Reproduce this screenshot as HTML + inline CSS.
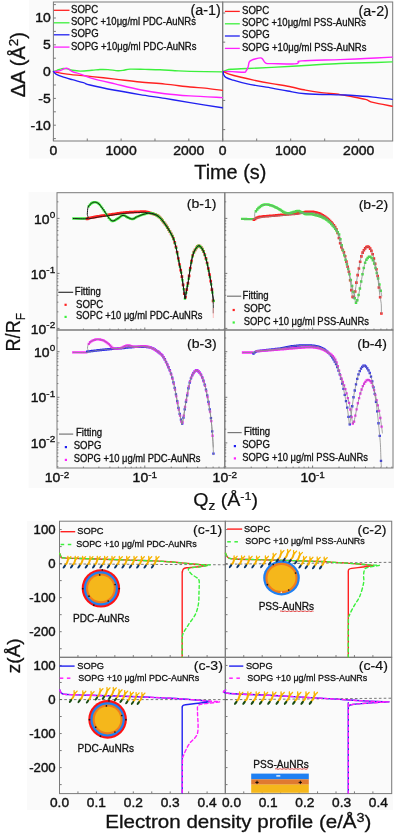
<!DOCTYPE html>
<html><head><meta charset="utf-8"><title>figure</title>
<style>html,body{margin:0;padding:0;background:#fff;width:395px;height:833px;overflow:hidden;font-family:"Liberation Sans", sans-serif}svg{display:block;will-change:transform}</style>
</head><body>
<svg width="395" height="833" viewBox="0 0 395 833" font-family='"Liberation Sans", sans-serif'><rect width="395" height="833" fill="#fff"/>
<rect x="29" y="0" width="364" height="158.6" fill="#fafafa" />
<rect x="28.6" y="192" width="365.4" height="296" fill="#fafafa" />
<rect x="27" y="521" width="366" height="289" fill="#fafafa" />
<rect x="53.4" y="2" width="169.3" height="139" fill="none" stroke="#7a7a7a" stroke-width="1"/>
<line x1="53.4" y1="138.6" x2="55.9" y2="138.6" stroke="#7a7a7a" stroke-width="1" />
<line x1="53.4" y1="125.2" x2="55.9" y2="125.2" stroke="#7a7a7a" stroke-width="1" />
<line x1="53.4" y1="111.8" x2="55.9" y2="111.8" stroke="#7a7a7a" stroke-width="1" />
<line x1="53.4" y1="98.4" x2="55.9" y2="98.4" stroke="#7a7a7a" stroke-width="1" />
<line x1="53.4" y1="85" x2="55.9" y2="85" stroke="#7a7a7a" stroke-width="1" />
<line x1="53.4" y1="71.6" x2="55.9" y2="71.6" stroke="#7a7a7a" stroke-width="1" />
<line x1="53.4" y1="58.2" x2="55.9" y2="58.2" stroke="#7a7a7a" stroke-width="1" />
<line x1="53.4" y1="44.8" x2="55.9" y2="44.8" stroke="#7a7a7a" stroke-width="1" />
<line x1="53.4" y1="31.4" x2="55.9" y2="31.4" stroke="#7a7a7a" stroke-width="1" />
<line x1="53.4" y1="18" x2="55.9" y2="18" stroke="#7a7a7a" stroke-width="1" />
<line x1="53.4" y1="4.6" x2="55.9" y2="4.6" stroke="#7a7a7a" stroke-width="1" />
<line x1="53.4" y1="141" x2="53.4" y2="138.5" stroke="#7a7a7a" stroke-width="1" />
<line x1="87.26" y1="141" x2="87.26" y2="138.5" stroke="#7a7a7a" stroke-width="1" />
<line x1="121.12" y1="141" x2="121.12" y2="138.5" stroke="#7a7a7a" stroke-width="1" />
<line x1="154.98" y1="141" x2="154.98" y2="138.5" stroke="#7a7a7a" stroke-width="1" />
<line x1="188.84" y1="141" x2="188.84" y2="138.5" stroke="#7a7a7a" stroke-width="1" />
<text x="53.4" y="154.6" font-size="13.2" text-anchor="middle" fill="#111"  textLength="7.78" lengthAdjust="spacingAndGlyphs" stroke="#111" stroke-width="0.4">0</text>
<text x="121.12" y="154.6" font-size="13.2" text-anchor="middle" fill="#111"  textLength="31.13" lengthAdjust="spacingAndGlyphs" stroke="#111" stroke-width="0.4">1000</text>
<text x="188.84" y="154.6" font-size="13.2" text-anchor="middle" fill="#111"  textLength="31.13" lengthAdjust="spacingAndGlyphs" stroke="#111" stroke-width="0.4">2000</text>
<rect x="222.7" y="2" width="170" height="139" fill="none" stroke="#7a7a7a" stroke-width="1"/>
<line x1="222.7" y1="13" x2="225.2" y2="13" stroke="#7a7a7a" stroke-width="1" />
<line x1="222.7" y1="42.15" x2="225.2" y2="42.15" stroke="#7a7a7a" stroke-width="1" />
<line x1="222.7" y1="71.3" x2="225.2" y2="71.3" stroke="#7a7a7a" stroke-width="1" />
<line x1="222.7" y1="100.45" x2="225.2" y2="100.45" stroke="#7a7a7a" stroke-width="1" />
<line x1="222.7" y1="129.6" x2="225.2" y2="129.6" stroke="#7a7a7a" stroke-width="1" />
<line x1="222.7" y1="141" x2="222.7" y2="138.5" stroke="#7a7a7a" stroke-width="1" />
<line x1="256.7" y1="141" x2="256.7" y2="138.5" stroke="#7a7a7a" stroke-width="1" />
<line x1="290.7" y1="141" x2="290.7" y2="138.5" stroke="#7a7a7a" stroke-width="1" />
<line x1="324.7" y1="141" x2="324.7" y2="138.5" stroke="#7a7a7a" stroke-width="1" />
<line x1="358.7" y1="141" x2="358.7" y2="138.5" stroke="#7a7a7a" stroke-width="1" />
<text x="222.7" y="154.6" font-size="13.2" text-anchor="middle" fill="#111"  textLength="7.78" lengthAdjust="spacingAndGlyphs" stroke="#111" stroke-width="0.4">0</text>
<text x="290.7" y="154.6" font-size="13.2" text-anchor="middle" fill="#111"  textLength="31.13" lengthAdjust="spacingAndGlyphs" stroke="#111" stroke-width="0.4">1000</text>
<text x="358.7" y="154.6" font-size="13.2" text-anchor="middle" fill="#111"  textLength="31.13" lengthAdjust="spacingAndGlyphs" stroke="#111" stroke-width="0.4">2000</text>
<text x="50.8" y="22.4" font-size="13.2" text-anchor="end" fill="#111"  textLength="15.56" lengthAdjust="spacingAndGlyphs" stroke="#111" stroke-width="0.4">10</text>
<text x="50.8" y="49.2" font-size="13.2" text-anchor="end" fill="#111"  textLength="7.78" lengthAdjust="spacingAndGlyphs" stroke="#111" stroke-width="0.4">5</text>
<text x="50.8" y="76" font-size="13.2" text-anchor="end" fill="#111"  textLength="7.78" lengthAdjust="spacingAndGlyphs" stroke="#111" stroke-width="0.4">0</text>
<text x="50.8" y="102.8" font-size="13.2" text-anchor="end" fill="#111"  textLength="12.44" lengthAdjust="spacingAndGlyphs" stroke="#111" stroke-width="0.4">-5</text>
<text x="50.8" y="129.6" font-size="13.2" text-anchor="end" fill="#111"  textLength="20.22" lengthAdjust="spacingAndGlyphs" stroke="#111" stroke-width="0.4">-10</text>
<text transform="translate(25.2,97.3) rotate(-90)" font-size="20" fill="#111" stroke="#111" stroke-width="0.3">&#916;A (&#197;<tspan font-size="13.5" dy="-7.5">2</tspan><tspan dy="7.5">)</tspan></text>
<text x="230.3" y="179" font-size="20" text-anchor="middle" fill="#111" textLength="72" lengthAdjust="spacingAndGlyphs" stroke="#111" stroke-width="0.3">Time (s)</text>
<text x="220.7" y="15.2" font-size="13.8" text-anchor="end" fill="#111"  textLength="30.3" lengthAdjust="spacingAndGlyphs" stroke="#111" stroke-width="0.2">(a-1)</text>
<text x="388.9" y="15.6" font-size="13.8" text-anchor="end" fill="#111"  textLength="30.3" lengthAdjust="spacingAndGlyphs" stroke="#111" stroke-width="0.2">(a-2)</text>
<line x1="53.9" y1="10.3" x2="69.5" y2="10.3" stroke="#ff2020" stroke-width="1.3" />
<text x="71" y="12.7" font-size="10.2" text-anchor="start" fill="#111"  textLength="27.17" lengthAdjust="spacingAndGlyphs" stroke="#111" stroke-width="0.3">SOPC</text>
<line x1="53.9" y1="22.8" x2="69.5" y2="22.8" stroke="#3cf03c" stroke-width="1.3" />
<text x="71" y="25.2" font-size="10.2" text-anchor="start" fill="#111"  textLength="124.95" lengthAdjust="spacingAndGlyphs" stroke="#111" stroke-width="0.3">SOPC +10&#956;g/ml PDC-AuNRs</text>
<line x1="53.9" y1="34.8" x2="69.5" y2="34.8" stroke="#2020f0" stroke-width="1.3" />
<text x="71" y="37.2" font-size="10.2" text-anchor="start" fill="#111"  textLength="27.71" lengthAdjust="spacingAndGlyphs" stroke="#111" stroke-width="0.3">SOPG</text>
<line x1="53.9" y1="47.1" x2="69.5" y2="47.1" stroke="#ff20ff" stroke-width="1.3" />
<text x="71" y="49.5" font-size="10.2" text-anchor="start" fill="#111"  textLength="125.47" lengthAdjust="spacingAndGlyphs" stroke="#111" stroke-width="0.3">SOPG +10&#956;g/ml PDC-AuNRs</text>
<line x1="224.9" y1="11.4" x2="239.8" y2="11.4" stroke="#ff2020" stroke-width="1.3" />
<text x="242" y="13.8" font-size="10.2" text-anchor="start" fill="#111"  textLength="27.17" lengthAdjust="spacingAndGlyphs" stroke="#111" stroke-width="0.3">SOPC</text>
<line x1="224.9" y1="23.8" x2="239.8" y2="23.8" stroke="#3cf03c" stroke-width="1.3" />
<text x="242" y="26.2" font-size="10.2" text-anchor="start" fill="#111"  textLength="123.9" lengthAdjust="spacingAndGlyphs" stroke="#111" stroke-width="0.3">SOPC +10&#956;g/ml PSS-AuNRs</text>
<line x1="224.9" y1="36" x2="239.8" y2="36" stroke="#2020f0" stroke-width="1.3" />
<text x="242" y="38.4" font-size="10.2" text-anchor="start" fill="#111"  textLength="27.71" lengthAdjust="spacingAndGlyphs" stroke="#111" stroke-width="0.3">SOPG</text>
<line x1="224.9" y1="48.4" x2="239.8" y2="48.4" stroke="#ff20ff" stroke-width="1.3" />
<text x="242" y="50.8" font-size="10.2" text-anchor="start" fill="#111"  textLength="124.43" lengthAdjust="spacingAndGlyphs" stroke="#111" stroke-width="0.3">SOPG +10&#956;g/ml PSS-AuNRs</text>
<path d="M53.5 71.6 C54.1 71.38 55.67 70.8 57.1 70.3 C58.53 69.8 60.42 68.83 62.1 68.6 C63.78 68.37 65.5 68.62 67.2 68.9 C68.9 69.18 70.1 69.93 72.3 70.3 C74.5 70.67 77.12 71.1 80.4 71.1 C83.68 71.1 88.73 70.57 92 70.3 C95.27 70.03 97.33 69.62 100 69.5 C102.67 69.38 105 69.4 108 69.6 C111 69.8 115.33 70.6 118 70.7 C120.67 70.8 122 70.47 124 70.2 C126 69.93 126.5 69.23 130 69.1 C133.5 68.97 140 69.28 145 69.4 C150 69.52 155 69.58 160 69.8 C165 70.02 170 70.43 175 70.7 C180 70.97 182.12 71.2 190 71.4 C197.88 71.6 216.92 71.82 222.3 71.9" fill="none" stroke="#3cf03c" stroke-width="1.4" stroke-linejoin="round" stroke-linecap="round" />
<path d="M53.5 71.6 C55.78 72.02 60.78 73.27 67.2 74.1 C73.62 74.93 84.03 75.77 92 76.6 C99.97 77.43 107 78.2 115 79.1 C123 80 131.67 81.17 140 82 C148.33 82.83 156.67 83.27 165 84.1 C173.33 84.93 183.33 86.33 190 87 C196.67 87.67 199.62 87.53 205 88.1 C210.38 88.67 219.42 90.02 222.3 90.4" fill="none" stroke="#ff2020" stroke-width="1.4" stroke-linejoin="round" stroke-linecap="round" />
<path d="M53.5 71.6 C54.6 71.43 57.9 71.18 60.1 70.6 C62.3 70.02 64.67 67.93 66.7 68.1 C68.73 68.27 70.02 70.6 72.3 71.6 C74.58 72.6 77.12 72.98 80.4 74.1 C83.68 75.22 86.23 76.67 92 78.3 C97.77 79.93 107 82 115 83.9 C123 85.8 131.67 88.07 140 89.7 C148.33 91.33 156.67 92.67 165 93.7 C173.33 94.73 180.45 95.25 190 95.9 C199.55 96.55 216.92 97.32 222.3 97.6" fill="none" stroke="#ff20ff" stroke-width="1.4" stroke-linejoin="round" stroke-linecap="round" />
<path d="M53.5 71.6 C53.92 72.02 54.57 73.25 56 74.1 C57.43 74.95 59.38 75.77 62.1 76.7 C64.82 77.63 68.75 78.7 72.3 79.7 C75.85 80.7 80.45 81.82 83.4 82.7 C86.35 83.58 84.73 83.73 90 85 C95.27 86.27 106.67 88.7 115 90.3 C123.33 91.9 131.67 93.25 140 94.6 C148.33 95.95 156.67 97.07 165 98.4 C173.33 99.73 180.45 101.03 190 102.6 C199.55 104.17 216.92 106.93 222.3 107.8" fill="none" stroke="#2020f0" stroke-width="1.4" stroke-linejoin="round" stroke-linecap="round" />
<path d="M223.3 71.6 C223.72 71.4 224.53 70.78 225.8 70.4 C227.07 70.02 227.32 69.62 230.9 69.3 C234.48 68.98 240.45 68.82 247.3 68.5 C254.15 68.18 262.38 67.9 272 67.4 C281.62 66.9 293.67 66.15 305 65.5 C316.33 64.85 330 63.95 340 63.5 C350 63.05 356.3 63.07 365 62.8 C373.7 62.53 387.67 62.05 392.2 61.9" fill="none" stroke="#3cf03c" stroke-width="1.4" stroke-linejoin="round" stroke-linecap="round" />
<path d="M223.3 71.6 C224.77 71.6 228.62 71.48 232.1 71.6 C235.58 71.72 241.88 72.4 244.2 72.3 C246.52 72.2 245.37 71.85 246 71 C246.63 70.15 247.47 68.68 248 67.2 C248.53 65.72 248.58 63.27 249.2 62.1 C249.82 60.93 250.75 60.72 251.7 60.2 C252.65 59.68 253.42 59.38 254.9 59 C256.38 58.62 259.33 57.9 260.6 57.9 C261.87 57.9 261.77 58.25 262.5 59 C263.23 59.75 264.15 61.63 265 62.4 C265.85 63.17 266.43 63.4 267.6 63.6 C268.77 63.8 267.47 63.55 272 63.6 C276.53 63.65 290.38 64.08 294.8 63.9 C299.22 63.72 297.32 63 298.5 62.5 C299.68 62 294.98 61.38 301.9 60.9 C308.82 60.42 329.48 60 340 59.6 C350.52 59.2 356.3 58.92 365 58.5 C373.7 58.08 387.67 57.33 392.2 57.1" fill="none" stroke="#ff20ff" stroke-width="1.4" stroke-linejoin="round" stroke-linecap="round" />
<path d="M223.3 71.6 C224.13 71.97 225.35 72.85 228.3 73.8 C231.25 74.75 236.78 76.25 241 77.3 C245.22 78.35 248.43 79.05 253.6 80.1 C258.77 81.15 266.32 82.58 272 83.6 C277.68 84.62 282.12 85.12 287.7 86.2 C293.28 87.28 300.18 89.07 305.5 90.1 C310.82 91.13 313.85 91.65 319.6 92.4 C325.35 93.15 334.9 93.93 340 94.6 C345.1 95.27 345.97 95.6 350.2 96.4 C354.43 97.2 361.6 98.4 365.4 99.4 C369.2 100.4 368.53 101.27 373 102.4 C377.47 103.53 389 105.57 392.2 106.2" fill="none" stroke="#ff2020" stroke-width="1.4" stroke-linejoin="round" stroke-linecap="round" />
<path d="M223.3 71.6 C223.33 72.03 223.08 73.25 223.5 74.2 C223.92 75.15 224.37 76.37 225.8 77.3 C227.23 78.23 228.52 78.7 232.1 79.8 C235.68 80.9 240.65 82.52 247.3 83.9 C253.95 85.28 265.27 86.92 272 88.1 C278.73 89.28 282.12 90.07 287.7 91 C293.28 91.93 296.78 93.05 305.5 93.7 C314.22 94.35 332.55 94.63 340 94.9 C347.45 95.17 344.7 94.93 350.2 95.3 C355.7 95.67 366 96.42 373 97.1 C380 97.78 389 99.02 392.2 99.4" fill="none" stroke="#2020f0" stroke-width="1.4" stroke-linejoin="round" stroke-linecap="round" />
<rect x="57" y="192.7" width="167.8" height="137.3" fill="none" stroke="#7a7a7a" stroke-width="1"/>
<line x1="57" y1="328.4" x2="59.5" y2="328.4" stroke="#7a7a7a" stroke-width="1" />
<line x1="57" y1="311.84" x2="58.4" y2="311.84" stroke="#7a7a7a" stroke-width="1" />
<line x1="57" y1="302.16" x2="58.4" y2="302.16" stroke="#7a7a7a" stroke-width="1" />
<line x1="57" y1="295.29" x2="58.4" y2="295.29" stroke="#7a7a7a" stroke-width="1" />
<line x1="57" y1="289.96" x2="58.4" y2="289.96" stroke="#7a7a7a" stroke-width="1" />
<line x1="57" y1="285.6" x2="58.4" y2="285.6" stroke="#7a7a7a" stroke-width="1" />
<line x1="57" y1="281.92" x2="58.4" y2="281.92" stroke="#7a7a7a" stroke-width="1" />
<line x1="57" y1="278.73" x2="58.4" y2="278.73" stroke="#7a7a7a" stroke-width="1" />
<line x1="57" y1="275.92" x2="58.4" y2="275.92" stroke="#7a7a7a" stroke-width="1" />
<line x1="57" y1="273.4" x2="59.5" y2="273.4" stroke="#7a7a7a" stroke-width="1" />
<line x1="57" y1="256.84" x2="58.4" y2="256.84" stroke="#7a7a7a" stroke-width="1" />
<line x1="57" y1="247.16" x2="58.4" y2="247.16" stroke="#7a7a7a" stroke-width="1" />
<line x1="57" y1="240.29" x2="58.4" y2="240.29" stroke="#7a7a7a" stroke-width="1" />
<line x1="57" y1="234.96" x2="58.4" y2="234.96" stroke="#7a7a7a" stroke-width="1" />
<line x1="57" y1="230.6" x2="58.4" y2="230.6" stroke="#7a7a7a" stroke-width="1" />
<line x1="57" y1="226.92" x2="58.4" y2="226.92" stroke="#7a7a7a" stroke-width="1" />
<line x1="57" y1="223.73" x2="58.4" y2="223.73" stroke="#7a7a7a" stroke-width="1" />
<line x1="57" y1="220.92" x2="58.4" y2="220.92" stroke="#7a7a7a" stroke-width="1" />
<line x1="57" y1="218.4" x2="59.5" y2="218.4" stroke="#7a7a7a" stroke-width="1" />
<line x1="57" y1="201.84" x2="58.4" y2="201.84" stroke="#7a7a7a" stroke-width="1" />
<line x1="83.43" y1="330" x2="83.43" y2="328.6" stroke="#7a7a7a" stroke-width="1" />
<line x1="98.89" y1="330" x2="98.89" y2="328.6" stroke="#7a7a7a" stroke-width="1" />
<line x1="109.86" y1="330" x2="109.86" y2="328.6" stroke="#7a7a7a" stroke-width="1" />
<line x1="118.37" y1="330" x2="118.37" y2="328.6" stroke="#7a7a7a" stroke-width="1" />
<line x1="125.32" y1="330" x2="125.32" y2="328.6" stroke="#7a7a7a" stroke-width="1" />
<line x1="131.2" y1="330" x2="131.2" y2="328.6" stroke="#7a7a7a" stroke-width="1" />
<line x1="136.29" y1="330" x2="136.29" y2="328.6" stroke="#7a7a7a" stroke-width="1" />
<line x1="140.78" y1="330" x2="140.78" y2="328.6" stroke="#7a7a7a" stroke-width="1" />
<line x1="144.8" y1="330" x2="144.8" y2="327.5" stroke="#7a7a7a" stroke-width="1" />
<line x1="171.23" y1="330" x2="171.23" y2="328.6" stroke="#7a7a7a" stroke-width="1" />
<line x1="186.69" y1="330" x2="186.69" y2="328.6" stroke="#7a7a7a" stroke-width="1" />
<line x1="197.66" y1="330" x2="197.66" y2="328.6" stroke="#7a7a7a" stroke-width="1" />
<line x1="206.17" y1="330" x2="206.17" y2="328.6" stroke="#7a7a7a" stroke-width="1" />
<line x1="213.12" y1="330" x2="213.12" y2="328.6" stroke="#7a7a7a" stroke-width="1" />
<line x1="219" y1="330" x2="219" y2="328.6" stroke="#7a7a7a" stroke-width="1" />
<line x1="224.09" y1="330" x2="224.09" y2="328.6" stroke="#7a7a7a" stroke-width="1" />
<rect x="224.8" y="192.7" width="168.2" height="137.3" fill="none" stroke="#7a7a7a" stroke-width="1"/>
<line x1="224.8" y1="328.4" x2="227.3" y2="328.4" stroke="#7a7a7a" stroke-width="1" />
<line x1="224.8" y1="311.84" x2="226.2" y2="311.84" stroke="#7a7a7a" stroke-width="1" />
<line x1="224.8" y1="302.16" x2="226.2" y2="302.16" stroke="#7a7a7a" stroke-width="1" />
<line x1="224.8" y1="295.29" x2="226.2" y2="295.29" stroke="#7a7a7a" stroke-width="1" />
<line x1="224.8" y1="289.96" x2="226.2" y2="289.96" stroke="#7a7a7a" stroke-width="1" />
<line x1="224.8" y1="285.6" x2="226.2" y2="285.6" stroke="#7a7a7a" stroke-width="1" />
<line x1="224.8" y1="281.92" x2="226.2" y2="281.92" stroke="#7a7a7a" stroke-width="1" />
<line x1="224.8" y1="278.73" x2="226.2" y2="278.73" stroke="#7a7a7a" stroke-width="1" />
<line x1="224.8" y1="275.92" x2="226.2" y2="275.92" stroke="#7a7a7a" stroke-width="1" />
<line x1="224.8" y1="273.4" x2="227.3" y2="273.4" stroke="#7a7a7a" stroke-width="1" />
<line x1="224.8" y1="256.84" x2="226.2" y2="256.84" stroke="#7a7a7a" stroke-width="1" />
<line x1="224.8" y1="247.16" x2="226.2" y2="247.16" stroke="#7a7a7a" stroke-width="1" />
<line x1="224.8" y1="240.29" x2="226.2" y2="240.29" stroke="#7a7a7a" stroke-width="1" />
<line x1="224.8" y1="234.96" x2="226.2" y2="234.96" stroke="#7a7a7a" stroke-width="1" />
<line x1="224.8" y1="230.6" x2="226.2" y2="230.6" stroke="#7a7a7a" stroke-width="1" />
<line x1="224.8" y1="226.92" x2="226.2" y2="226.92" stroke="#7a7a7a" stroke-width="1" />
<line x1="224.8" y1="223.73" x2="226.2" y2="223.73" stroke="#7a7a7a" stroke-width="1" />
<line x1="224.8" y1="220.92" x2="226.2" y2="220.92" stroke="#7a7a7a" stroke-width="1" />
<line x1="224.8" y1="218.4" x2="227.3" y2="218.4" stroke="#7a7a7a" stroke-width="1" />
<line x1="224.8" y1="201.84" x2="226.2" y2="201.84" stroke="#7a7a7a" stroke-width="1" />
<line x1="251.23" y1="330" x2="251.23" y2="328.6" stroke="#7a7a7a" stroke-width="1" />
<line x1="266.69" y1="330" x2="266.69" y2="328.6" stroke="#7a7a7a" stroke-width="1" />
<line x1="277.66" y1="330" x2="277.66" y2="328.6" stroke="#7a7a7a" stroke-width="1" />
<line x1="286.17" y1="330" x2="286.17" y2="328.6" stroke="#7a7a7a" stroke-width="1" />
<line x1="293.12" y1="330" x2="293.12" y2="328.6" stroke="#7a7a7a" stroke-width="1" />
<line x1="299" y1="330" x2="299" y2="328.6" stroke="#7a7a7a" stroke-width="1" />
<line x1="304.09" y1="330" x2="304.09" y2="328.6" stroke="#7a7a7a" stroke-width="1" />
<line x1="308.58" y1="330" x2="308.58" y2="328.6" stroke="#7a7a7a" stroke-width="1" />
<line x1="312.6" y1="330" x2="312.6" y2="327.5" stroke="#7a7a7a" stroke-width="1" />
<line x1="339.03" y1="330" x2="339.03" y2="328.6" stroke="#7a7a7a" stroke-width="1" />
<line x1="354.49" y1="330" x2="354.49" y2="328.6" stroke="#7a7a7a" stroke-width="1" />
<line x1="365.46" y1="330" x2="365.46" y2="328.6" stroke="#7a7a7a" stroke-width="1" />
<line x1="373.97" y1="330" x2="373.97" y2="328.6" stroke="#7a7a7a" stroke-width="1" />
<line x1="380.92" y1="330" x2="380.92" y2="328.6" stroke="#7a7a7a" stroke-width="1" />
<line x1="386.8" y1="330" x2="386.8" y2="328.6" stroke="#7a7a7a" stroke-width="1" />
<line x1="391.89" y1="330" x2="391.89" y2="328.6" stroke="#7a7a7a" stroke-width="1" />
<text transform="translate(55.2,223.5) scale(1.06,1)" text-anchor="end" font-size="13.2" fill="#111" stroke="#111" stroke-width="0.4">10<tspan font-size="9.4" stroke-width="0.3" dy="-5.9">0</tspan></text>
<text transform="translate(55.2,278.5) scale(1.06,1)" text-anchor="end" font-size="13.2" fill="#111" stroke="#111" stroke-width="0.4">10<tspan font-size="9.4" stroke-width="0.3" dy="-5.9">-1</tspan></text>
<text transform="translate(55.2,333.5) scale(1.06,1)" text-anchor="end" font-size="13.2" fill="#111" stroke="#111" stroke-width="0.4">10<tspan font-size="9.4" stroke-width="0.3" dy="-5.9">-2</tspan></text>
<rect x="57" y="330" width="167.8" height="138" fill="none" stroke="#7a7a7a" stroke-width="1"/>
<line x1="57" y1="466.74" x2="58.4" y2="466.74" stroke="#7a7a7a" stroke-width="1" />
<line x1="57" y1="461.05" x2="58.4" y2="461.05" stroke="#7a7a7a" stroke-width="1" />
<line x1="57" y1="456.63" x2="58.4" y2="456.63" stroke="#7a7a7a" stroke-width="1" />
<line x1="57" y1="453.02" x2="58.4" y2="453.02" stroke="#7a7a7a" stroke-width="1" />
<line x1="57" y1="449.96" x2="58.4" y2="449.96" stroke="#7a7a7a" stroke-width="1" />
<line x1="57" y1="447.32" x2="58.4" y2="447.32" stroke="#7a7a7a" stroke-width="1" />
<line x1="57" y1="444.99" x2="58.4" y2="444.99" stroke="#7a7a7a" stroke-width="1" />
<line x1="57" y1="442.9" x2="59.5" y2="442.9" stroke="#7a7a7a" stroke-width="1" />
<line x1="57" y1="429.17" x2="58.4" y2="429.17" stroke="#7a7a7a" stroke-width="1" />
<line x1="57" y1="421.14" x2="58.4" y2="421.14" stroke="#7a7a7a" stroke-width="1" />
<line x1="57" y1="415.45" x2="58.4" y2="415.45" stroke="#7a7a7a" stroke-width="1" />
<line x1="57" y1="411.03" x2="58.4" y2="411.03" stroke="#7a7a7a" stroke-width="1" />
<line x1="57" y1="407.42" x2="58.4" y2="407.42" stroke="#7a7a7a" stroke-width="1" />
<line x1="57" y1="404.36" x2="58.4" y2="404.36" stroke="#7a7a7a" stroke-width="1" />
<line x1="57" y1="401.72" x2="58.4" y2="401.72" stroke="#7a7a7a" stroke-width="1" />
<line x1="57" y1="399.39" x2="58.4" y2="399.39" stroke="#7a7a7a" stroke-width="1" />
<line x1="57" y1="397.3" x2="59.5" y2="397.3" stroke="#7a7a7a" stroke-width="1" />
<line x1="57" y1="383.57" x2="58.4" y2="383.57" stroke="#7a7a7a" stroke-width="1" />
<line x1="57" y1="375.54" x2="58.4" y2="375.54" stroke="#7a7a7a" stroke-width="1" />
<line x1="57" y1="369.85" x2="58.4" y2="369.85" stroke="#7a7a7a" stroke-width="1" />
<line x1="57" y1="365.43" x2="58.4" y2="365.43" stroke="#7a7a7a" stroke-width="1" />
<line x1="57" y1="361.82" x2="58.4" y2="361.82" stroke="#7a7a7a" stroke-width="1" />
<line x1="57" y1="358.76" x2="58.4" y2="358.76" stroke="#7a7a7a" stroke-width="1" />
<line x1="57" y1="356.12" x2="58.4" y2="356.12" stroke="#7a7a7a" stroke-width="1" />
<line x1="57" y1="353.79" x2="58.4" y2="353.79" stroke="#7a7a7a" stroke-width="1" />
<line x1="57" y1="351.7" x2="59.5" y2="351.7" stroke="#7a7a7a" stroke-width="1" />
<line x1="57" y1="337.97" x2="58.4" y2="337.97" stroke="#7a7a7a" stroke-width="1" />
<line x1="83.43" y1="468" x2="83.43" y2="466.6" stroke="#7a7a7a" stroke-width="1" />
<line x1="98.89" y1="468" x2="98.89" y2="466.6" stroke="#7a7a7a" stroke-width="1" />
<line x1="109.86" y1="468" x2="109.86" y2="466.6" stroke="#7a7a7a" stroke-width="1" />
<line x1="118.37" y1="468" x2="118.37" y2="466.6" stroke="#7a7a7a" stroke-width="1" />
<line x1="125.32" y1="468" x2="125.32" y2="466.6" stroke="#7a7a7a" stroke-width="1" />
<line x1="131.2" y1="468" x2="131.2" y2="466.6" stroke="#7a7a7a" stroke-width="1" />
<line x1="136.29" y1="468" x2="136.29" y2="466.6" stroke="#7a7a7a" stroke-width="1" />
<line x1="140.78" y1="468" x2="140.78" y2="466.6" stroke="#7a7a7a" stroke-width="1" />
<line x1="144.8" y1="468" x2="144.8" y2="465.5" stroke="#7a7a7a" stroke-width="1" />
<line x1="171.23" y1="468" x2="171.23" y2="466.6" stroke="#7a7a7a" stroke-width="1" />
<line x1="186.69" y1="468" x2="186.69" y2="466.6" stroke="#7a7a7a" stroke-width="1" />
<line x1="197.66" y1="468" x2="197.66" y2="466.6" stroke="#7a7a7a" stroke-width="1" />
<line x1="206.17" y1="468" x2="206.17" y2="466.6" stroke="#7a7a7a" stroke-width="1" />
<line x1="213.12" y1="468" x2="213.12" y2="466.6" stroke="#7a7a7a" stroke-width="1" />
<line x1="219" y1="468" x2="219" y2="466.6" stroke="#7a7a7a" stroke-width="1" />
<line x1="224.09" y1="468" x2="224.09" y2="466.6" stroke="#7a7a7a" stroke-width="1" />
<rect x="224.8" y="330" width="168.2" height="138" fill="none" stroke="#7a7a7a" stroke-width="1"/>
<line x1="224.8" y1="466.74" x2="226.2" y2="466.74" stroke="#7a7a7a" stroke-width="1" />
<line x1="224.8" y1="461.05" x2="226.2" y2="461.05" stroke="#7a7a7a" stroke-width="1" />
<line x1="224.8" y1="456.63" x2="226.2" y2="456.63" stroke="#7a7a7a" stroke-width="1" />
<line x1="224.8" y1="453.02" x2="226.2" y2="453.02" stroke="#7a7a7a" stroke-width="1" />
<line x1="224.8" y1="449.96" x2="226.2" y2="449.96" stroke="#7a7a7a" stroke-width="1" />
<line x1="224.8" y1="447.32" x2="226.2" y2="447.32" stroke="#7a7a7a" stroke-width="1" />
<line x1="224.8" y1="444.99" x2="226.2" y2="444.99" stroke="#7a7a7a" stroke-width="1" />
<line x1="224.8" y1="442.9" x2="227.3" y2="442.9" stroke="#7a7a7a" stroke-width="1" />
<line x1="224.8" y1="429.17" x2="226.2" y2="429.17" stroke="#7a7a7a" stroke-width="1" />
<line x1="224.8" y1="421.14" x2="226.2" y2="421.14" stroke="#7a7a7a" stroke-width="1" />
<line x1="224.8" y1="415.45" x2="226.2" y2="415.45" stroke="#7a7a7a" stroke-width="1" />
<line x1="224.8" y1="411.03" x2="226.2" y2="411.03" stroke="#7a7a7a" stroke-width="1" />
<line x1="224.8" y1="407.42" x2="226.2" y2="407.42" stroke="#7a7a7a" stroke-width="1" />
<line x1="224.8" y1="404.36" x2="226.2" y2="404.36" stroke="#7a7a7a" stroke-width="1" />
<line x1="224.8" y1="401.72" x2="226.2" y2="401.72" stroke="#7a7a7a" stroke-width="1" />
<line x1="224.8" y1="399.39" x2="226.2" y2="399.39" stroke="#7a7a7a" stroke-width="1" />
<line x1="224.8" y1="397.3" x2="227.3" y2="397.3" stroke="#7a7a7a" stroke-width="1" />
<line x1="224.8" y1="383.57" x2="226.2" y2="383.57" stroke="#7a7a7a" stroke-width="1" />
<line x1="224.8" y1="375.54" x2="226.2" y2="375.54" stroke="#7a7a7a" stroke-width="1" />
<line x1="224.8" y1="369.85" x2="226.2" y2="369.85" stroke="#7a7a7a" stroke-width="1" />
<line x1="224.8" y1="365.43" x2="226.2" y2="365.43" stroke="#7a7a7a" stroke-width="1" />
<line x1="224.8" y1="361.82" x2="226.2" y2="361.82" stroke="#7a7a7a" stroke-width="1" />
<line x1="224.8" y1="358.76" x2="226.2" y2="358.76" stroke="#7a7a7a" stroke-width="1" />
<line x1="224.8" y1="356.12" x2="226.2" y2="356.12" stroke="#7a7a7a" stroke-width="1" />
<line x1="224.8" y1="353.79" x2="226.2" y2="353.79" stroke="#7a7a7a" stroke-width="1" />
<line x1="224.8" y1="351.7" x2="227.3" y2="351.7" stroke="#7a7a7a" stroke-width="1" />
<line x1="224.8" y1="337.97" x2="226.2" y2="337.97" stroke="#7a7a7a" stroke-width="1" />
<line x1="251.23" y1="468" x2="251.23" y2="466.6" stroke="#7a7a7a" stroke-width="1" />
<line x1="266.69" y1="468" x2="266.69" y2="466.6" stroke="#7a7a7a" stroke-width="1" />
<line x1="277.66" y1="468" x2="277.66" y2="466.6" stroke="#7a7a7a" stroke-width="1" />
<line x1="286.17" y1="468" x2="286.17" y2="466.6" stroke="#7a7a7a" stroke-width="1" />
<line x1="293.12" y1="468" x2="293.12" y2="466.6" stroke="#7a7a7a" stroke-width="1" />
<line x1="299" y1="468" x2="299" y2="466.6" stroke="#7a7a7a" stroke-width="1" />
<line x1="304.09" y1="468" x2="304.09" y2="466.6" stroke="#7a7a7a" stroke-width="1" />
<line x1="308.58" y1="468" x2="308.58" y2="466.6" stroke="#7a7a7a" stroke-width="1" />
<line x1="312.6" y1="468" x2="312.6" y2="465.5" stroke="#7a7a7a" stroke-width="1" />
<line x1="339.03" y1="468" x2="339.03" y2="466.6" stroke="#7a7a7a" stroke-width="1" />
<line x1="354.49" y1="468" x2="354.49" y2="466.6" stroke="#7a7a7a" stroke-width="1" />
<line x1="365.46" y1="468" x2="365.46" y2="466.6" stroke="#7a7a7a" stroke-width="1" />
<line x1="373.97" y1="468" x2="373.97" y2="466.6" stroke="#7a7a7a" stroke-width="1" />
<line x1="380.92" y1="468" x2="380.92" y2="466.6" stroke="#7a7a7a" stroke-width="1" />
<line x1="386.8" y1="468" x2="386.8" y2="466.6" stroke="#7a7a7a" stroke-width="1" />
<line x1="391.89" y1="468" x2="391.89" y2="466.6" stroke="#7a7a7a" stroke-width="1" />
<text transform="translate(55.2,356.8) scale(1.06,1)" text-anchor="end" font-size="13.2" fill="#111" stroke="#111" stroke-width="0.4">10<tspan font-size="9.4" stroke-width="0.3" dy="-5.9">0</tspan></text>
<text transform="translate(55.2,402.4) scale(1.06,1)" text-anchor="end" font-size="13.2" fill="#111" stroke="#111" stroke-width="0.4">10<tspan font-size="9.4" stroke-width="0.3" dy="-5.9">-1</tspan></text>
<text transform="translate(55.2,448) scale(1.06,1)" text-anchor="end" font-size="13.2" fill="#111" stroke="#111" stroke-width="0.4">10<tspan font-size="9.4" stroke-width="0.3" dy="-5.9">-2</tspan></text>
<text transform="translate(57,482.3) scale(1.06,1)" text-anchor="middle" font-size="13.2" fill="#111" stroke="#111" stroke-width="0.4">10<tspan font-size="9.4" stroke-width="0.3" dy="-4.8">-2</tspan></text>
<text transform="translate(144.8,482.3) scale(1.06,1)" text-anchor="middle" font-size="13.2" fill="#111" stroke="#111" stroke-width="0.4">10<tspan font-size="9.4" stroke-width="0.3" dy="-4.8">-1</tspan></text>
<text transform="translate(224.8,482.3) scale(1.06,1)" text-anchor="middle" font-size="13.2" fill="#111" stroke="#111" stroke-width="0.4">10<tspan font-size="9.4" stroke-width="0.3" dy="-4.8">-2</tspan></text>
<text transform="translate(312.6,482.3) scale(1.06,1)" text-anchor="middle" font-size="13.2" fill="#111" stroke="#111" stroke-width="0.4">10<tspan font-size="9.4" stroke-width="0.3" dy="-4.8">-1</tspan></text>
<text transform="translate(19.7,351.6) rotate(-90) scale(0.89,1)" font-size="20.5" fill="#111" stroke="#111" stroke-width="0.2">R/R<tspan font-size="13.5" dy="5">F</tspan></text>
<text transform="translate(193.2,506.3) scale(1.09,1)" font-size="18" fill="#111" stroke="#111" stroke-width="0.2">Q<tspan font-size="12.5" dy="4">z</tspan><tspan dy="-4"> (&#197;</tspan><tspan font-size="11.5" dy="-6">-1</tspan><tspan dy="6">)</tspan></text>
<text x="216.5" y="208.1" font-size="13.5" text-anchor="end" fill="#111"  textLength="29.64" lengthAdjust="spacingAndGlyphs" stroke="#111" stroke-width="0.2">(b-1)</text>
<text x="388.3" y="208.7" font-size="13.5" text-anchor="end" fill="#111"  textLength="29.64" lengthAdjust="spacingAndGlyphs" stroke="#111" stroke-width="0.2">(b-2)</text>
<text x="216.7" y="347.7" font-size="13.5" text-anchor="end" fill="#111"  textLength="29.64" lengthAdjust="spacingAndGlyphs" stroke="#111" stroke-width="0.2">(b-3)</text>
<text x="386.9" y="348.1" font-size="13.5" text-anchor="end" fill="#111"  textLength="29.64" lengthAdjust="spacingAndGlyphs" stroke="#111" stroke-width="0.2">(b-4)</text>
<line x1="58.3" y1="292.3" x2="73.2" y2="292.3" stroke="#333" stroke-width="1.2" />
<text x="74.8" y="294.8" font-size="10.2" text-anchor="start" fill="#111"  textLength="26.11" lengthAdjust="spacingAndGlyphs" stroke="#111" stroke-width="0.3">Fitting</text>
<rect x="64.5" y="303.7" width="2.2" height="2.2" fill="#ff2020" />
<text x="76.1" y="307.5" font-size="10.2" text-anchor="start" fill="#111"  textLength="27.17" lengthAdjust="spacingAndGlyphs" stroke="#111" stroke-width="0.3">SOPC</text>
<rect x="64.5" y="315.8" width="2.2" height="2.2" fill="#3cf03c" />
<text x="76.1" y="319.1" font-size="10.2" text-anchor="start" fill="#111"  textLength="126.29" lengthAdjust="spacingAndGlyphs" stroke="#111" stroke-width="0.3">SOPC +10 &#956;g/ml PDC-AuNRs</text>
<line x1="227" y1="296.2" x2="241.2" y2="296.2" stroke="#777" stroke-width="1.2" />
<text x="242.6" y="299" font-size="10.2" text-anchor="start" fill="#111"  textLength="26.11" lengthAdjust="spacingAndGlyphs" stroke="#111" stroke-width="0.3">Fitting</text>
<rect x="232.6" y="308.9" width="2.2" height="2.2" fill="#ff2020" />
<text x="243.8" y="312.1" font-size="10.2" text-anchor="start" fill="#111"  textLength="27.17" lengthAdjust="spacingAndGlyphs" stroke="#111" stroke-width="0.3">SOPC</text>
<rect x="232.6" y="321.4" width="2.2" height="2.2" fill="#3cf03c" />
<text x="243.8" y="325.2" font-size="10.2" text-anchor="start" fill="#111"  textLength="125.26" lengthAdjust="spacingAndGlyphs" stroke="#111" stroke-width="0.3">SOPC +10 &#956;g/ml PSS-AuNRs</text>
<line x1="59" y1="434.1" x2="73.2" y2="434.1" stroke="#777" stroke-width="1.2" />
<text x="76" y="435.8" font-size="10.2" text-anchor="start" fill="#111"  textLength="26.11" lengthAdjust="spacingAndGlyphs" stroke="#111" stroke-width="0.3">Fitting</text>
<rect x="64.8" y="446" width="2.2" height="2.2" fill="#2020f0" />
<text x="73.7" y="449" font-size="10.2" text-anchor="start" fill="#111"  textLength="27.71" lengthAdjust="spacingAndGlyphs" stroke="#111" stroke-width="0.3">SOPG</text>
<rect x="64.8" y="458.8" width="2.2" height="2.2" fill="#ff20ff" />
<text x="73.7" y="462" font-size="10.2" text-anchor="start" fill="#111"  textLength="126.82" lengthAdjust="spacingAndGlyphs" stroke="#111" stroke-width="0.3">SOPG +10 &#956;g/ml PDC-AuNRs</text>
<line x1="227.5" y1="432.6" x2="241.7" y2="432.6" stroke="#777" stroke-width="1.2" />
<text x="244" y="434.6" font-size="10.2" text-anchor="start" fill="#111"  textLength="26.11" lengthAdjust="spacingAndGlyphs" stroke="#111" stroke-width="0.3">Fitting</text>
<rect x="233.8" y="445" width="2.2" height="2.2" fill="#2020f0" />
<text x="242.2" y="447.8" font-size="10.2" text-anchor="start" fill="#111"  textLength="27.71" lengthAdjust="spacingAndGlyphs" stroke="#111" stroke-width="0.3">SOPG</text>
<rect x="233.8" y="457.3" width="2.2" height="2.2" fill="#ff20ff" />
<text x="242.2" y="460.7" font-size="10.2" text-anchor="start" fill="#111"  textLength="125.78" lengthAdjust="spacingAndGlyphs" stroke="#111" stroke-width="0.3">SOPG +10 &#956;g/ml PSS-AuNRs</text>
<path d="M72.25 217.35h2.3v2.3h-2.3zM73.25 217.35h2.3v2.3h-2.3zM74.25 217.35h2.3v2.3h-2.3zM75.25 217.35h2.3v2.3h-2.3zM76.25 217.35h2.3v2.3h-2.3zM77.25 217.35h2.3v2.3h-2.3zM78.25 217.35h2.3v2.3h-2.3zM79.25 217.35h2.3v2.3h-2.3zM80.25 217.35h2.3v2.3h-2.3zM81.25 217.35h2.3v2.3h-2.3zM82.25 217.35h2.3v2.3h-2.3zM83.25 217.35h2.3v2.3h-2.3zM84.25 217.35h2.3v2.3h-2.3zM85.25 217.35h2.3v2.3h-2.3z" fill="#3cf03c"/>
<path d="M85.75 217.55h2.7v2.7h-2.7zM86.95 217.02h2.7v2.7h-2.7zM88.15 216.66h2.7v2.7h-2.7zM89.35 216.4h2.7v2.7h-2.7zM90.55 216.17h2.7v2.7h-2.7zM91.75 215.94h2.7v2.7h-2.7zM92.95 215.72h2.7v2.7h-2.7zM94.15 215.51h2.7v2.7h-2.7zM95.35 215.3h2.7v2.7h-2.7zM96.55 215.09h2.7v2.7h-2.7zM97.75 214.9h2.7v2.7h-2.7zM98.95 214.7h2.7v2.7h-2.7zM100.15 214.52h2.7v2.7h-2.7zM101.35 214.34h2.7v2.7h-2.7zM102.55 214.18h2.7v2.7h-2.7zM103.75 214.01h2.7v2.7h-2.7zM104.95 213.85h2.7v2.7h-2.7zM106.15 213.69h2.7v2.7h-2.7zM107.35 213.53h2.7v2.7h-2.7zM108.55 213.36h2.7v2.7h-2.7zM109.75 213.19h2.7v2.7h-2.7zM110.95 213.01h2.7v2.7h-2.7zM112.15 212.83h2.7v2.7h-2.7zM113.35 212.64h2.7v2.7h-2.7zM114.55 212.46h2.7v2.7h-2.7zM115.75 212.27h2.7v2.7h-2.7zM116.95 212.1h2.7v2.7h-2.7zM118.15 211.92h2.7v2.7h-2.7zM119.35 211.76h2.7v2.7h-2.7zM120.55 211.6h2.7v2.7h-2.7zM121.75 211.45h2.7v2.7h-2.7zM122.95 211.32h2.7v2.7h-2.7zM124.15 211.2h2.7v2.7h-2.7zM125.35 211.1h2.7v2.7h-2.7zM126.55 211h2.7v2.7h-2.7zM127.75 210.92h2.7v2.7h-2.7zM128.95 210.84h2.7v2.7h-2.7zM130.15 210.77h2.7v2.7h-2.7zM131.35 210.7h2.7v2.7h-2.7zM132.55 210.64h2.7v2.7h-2.7zM133.75 210.58h2.7v2.7h-2.7zM134.95 210.52h2.7v2.7h-2.7zM136.15 210.47h2.7v2.7h-2.7zM137.35 210.43h2.7v2.7h-2.7zM138.55 210.38h2.7v2.7h-2.7zM139.75 210.34h2.7v2.7h-2.7zM140.95 210.28h2.7v2.7h-2.7zM142.15 210.2h2.7v2.7h-2.7zM143.35 210.28h2.7v2.7h-2.7zM144.55 210.53h2.7v2.7h-2.7zM145.75 210.81h2.7v2.7h-2.7zM146.95 211.11h2.7v2.7h-2.7zM148.15 211.42h2.7v2.7h-2.7zM149.35 211.76h2.7v2.7h-2.7zM150.55 212.12h2.7v2.7h-2.7zM151.75 212.5h2.7v2.7h-2.7zM152.95 212.91h2.7v2.7h-2.7zM154.15 213.36h2.7v2.7h-2.7zM155.35 213.9h2.7v2.7h-2.7zM156.55 214.57h2.7v2.7h-2.7zM157.75 215.46h2.7v2.7h-2.7zM158.95 216.66h2.7v2.7h-2.7zM160.15 218.02h2.7v2.7h-2.7zM161.35 219.44h2.7v2.7h-2.7zM162.55 221.03h2.7v2.7h-2.7zM163.75 222.73h2.7v2.7h-2.7zM164.95 224.5h2.7v2.7h-2.7zM166.15 226.31h2.7v2.7h-2.7zM167.35 228.24h2.7v2.7h-2.7zM168.55 230.29h2.7v2.7h-2.7zM169.75 232.45h2.7v2.7h-2.7zM170.95 234.64h2.7v2.7h-2.7zM172.15 237.31h2.7v2.7h-2.7zM173.35 240.97h2.7v2.7h-2.7zM174.55 245.54h2.7v2.7h-2.7zM175.75 250.91h2.7v2.7h-2.7zM176.95 257.17h2.7v2.7h-2.7zM178.15 263.14h2.7v2.7h-2.7zM179.35 268.8h2.7v2.7h-2.7zM180.55 275.33h2.7v2.7h-2.7zM181.75 283.53h2.7v2.7h-2.7zM182.95 292.33h2.7v2.7h-2.7zM184.15 295.88h2.7v2.7h-2.7zM185.35 288.35h2.7v2.7h-2.7zM186.55 282.08h2.7v2.7h-2.7zM187.75 274.61h2.7v2.7h-2.7zM188.95 266.65h2.7v2.7h-2.7zM190.15 259.78h2.7v2.7h-2.7zM191.35 254.3h2.7v2.7h-2.7zM192.55 250.86h2.7v2.7h-2.7zM193.75 248.48h2.7v2.7h-2.7zM194.95 246.61h2.7v2.7h-2.7zM196.15 245.1h2.7v2.7h-2.7zM197.35 244.41h2.7v2.7h-2.7zM198.55 244.8h2.7v2.7h-2.7zM199.75 245.98h2.7v2.7h-2.7zM200.95 247.7h2.7v2.7h-2.7zM202.15 250h2.7v2.7h-2.7zM203.35 253.14h2.7v2.7h-2.7zM204.55 257.05h2.7v2.7h-2.7zM205.75 261.66h2.7v2.7h-2.7zM206.95 267.18h2.7v2.7h-2.7zM208.15 273.18h2.7v2.7h-2.7zM209.35 279.82h2.7v2.7h-2.7zM210.55 288.21h2.7v2.7h-2.7zM211.75 299.55h2.7v2.7h-2.7z" fill="#ff2020"/>
<path d="M87.5 205.17h2.4v2.4h-2.4zM88.75 203.48h2.4v2.4h-2.4zM90 202.25h2.4v2.4h-2.4zM91.25 201.48h2.4v2.4h-2.4zM92.5 201.06h2.4v2.4h-2.4zM93.75 201.02h2.4v2.4h-2.4zM95 201.17h2.4v2.4h-2.4zM96.25 201.63h2.4v2.4h-2.4zM97.5 202.52h2.4v2.4h-2.4zM98.75 203.84h2.4v2.4h-2.4zM100 205.44h2.4v2.4h-2.4zM101.25 207.17h2.4v2.4h-2.4zM102.5 208.98h2.4v2.4h-2.4zM103.75 210.8h2.4v2.4h-2.4zM105 212.65h2.4v2.4h-2.4zM106.25 214.72h2.4v2.4h-2.4zM107.5 216.62h2.4v2.4h-2.4zM108.75 218.04h2.4v2.4h-2.4zM110 219.19h2.4v2.4h-2.4zM111.25 219.75h2.4v2.4h-2.4zM112.5 219.67h2.4v2.4h-2.4zM113.75 219.11h2.4v2.4h-2.4zM115 218.34h2.4v2.4h-2.4zM116.25 217.53h2.4v2.4h-2.4zM117.5 216.75h2.4v2.4h-2.4zM118.75 215.78h2.4v2.4h-2.4zM120 214.84h2.4v2.4h-2.4zM121.25 214.21h2.4v2.4h-2.4zM122.5 214.15h2.4v2.4h-2.4zM123.75 214.62h2.4v2.4h-2.4zM125 215.35h2.4v2.4h-2.4zM126.25 216.1h2.4v2.4h-2.4zM127.5 216.65h2.4v2.4h-2.4zM128.75 217.23h2.4v2.4h-2.4zM130 217.69h2.4v2.4h-2.4zM131.25 217.81h2.4v2.4h-2.4zM132.5 217.49h2.4v2.4h-2.4zM133.75 216.83h2.4v2.4h-2.4zM135 216.08h2.4v2.4h-2.4zM136.25 215.41h2.4v2.4h-2.4zM137.5 214.88h2.4v2.4h-2.4zM138.75 214.38h2.4v2.4h-2.4zM140 213.91h2.4v2.4h-2.4zM141.25 213.47h2.4v2.4h-2.4zM142.5 213.08h2.4v2.4h-2.4zM143.75 212.74h2.4v2.4h-2.4zM145 212.4h2.4v2.4h-2.4zM146.25 212.11h2.4v2.4h-2.4zM147.5 211.92h2.4v2.4h-2.4zM148.75 211.88h2.4v2.4h-2.4zM150 212.01h2.4v2.4h-2.4zM151.25 212.28h2.4v2.4h-2.4zM152.5 212.67h2.4v2.4h-2.4zM153.75 213.17h2.4v2.4h-2.4zM155 213.78h2.4v2.4h-2.4zM156.25 214.52h2.4v2.4h-2.4zM157.5 215.45h2.4v2.4h-2.4zM158.75 216.56h2.4v2.4h-2.4zM160 217.85h2.4v2.4h-2.4zM161.25 219.28h2.4v2.4h-2.4zM162.5 220.91h2.4v2.4h-2.4zM163.75 222.66h2.4v2.4h-2.4zM165 224.5h2.4v2.4h-2.4zM166.25 226.39h2.4v2.4h-2.4zM167.5 228.39h2.4v2.4h-2.4zM168.75 230.53h2.4v2.4h-2.4zM170 232.78h2.4v2.4h-2.4zM171.25 235.08h2.4v2.4h-2.4zM172.5 238h2.4v2.4h-2.4zM173.75 242h2.4v2.4h-2.4zM175 246.95h2.4v2.4h-2.4zM176.25 252.84h2.4v2.4h-2.4zM177.5 259.39h2.4v2.4h-2.4zM178.75 265.4h2.4v2.4h-2.4zM180 271.47h2.4v2.4h-2.4zM181.25 279.09h2.4v2.4h-2.4zM182.5 287.95h2.4v2.4h-2.4zM183.75 297.39h2.4v2.4h-2.4zM185 291.42h2.4v2.4h-2.4zM186.25 284.61h2.4v2.4h-2.4zM187.5 277.5h2.4v2.4h-2.4zM188.75 268.92h2.4v2.4h-2.4zM190 261.58h2.4v2.4h-2.4zM191.25 255.41h2.4v2.4h-2.4zM192.5 251.49h2.4v2.4h-2.4zM193.75 248.89h2.4v2.4h-2.4zM195 246.91h2.4v2.4h-2.4zM196.25 245.3h2.4v2.4h-2.4zM197.5 244.56h2.4v2.4h-2.4zM198.75 244.99h2.4v2.4h-2.4zM200 246.26h2.4v2.4h-2.4zM201.25 248.1h2.4v2.4h-2.4zM202.5 250.61h2.4v2.4h-2.4zM203.75 254.05h2.4v2.4h-2.4zM205 258.26h2.4v2.4h-2.4zM206.25 263.34h2.4v2.4h-2.4zM207.5 269.3h2.4v2.4h-2.4zM208.75 275.9h2.4v2.4h-2.4zM210 283.2h2.4v2.4h-2.4zM211.25 291.27h2.4v2.4h-2.4zM212.5 299.7h2.4v2.4h-2.4z" fill="#3cf03c"/>
<path d="M73.4 218.5 C75.68 218.5 84.78 219.25 87.1 218.5 C89.42 217.75 87.13 215.88 87.3 214 C87.47 212.12 87.48 208.93 88.1 207.2 C88.72 205.47 89.92 204.43 91 203.6 C92.08 202.77 93.27 202.13 94.6 202.2 C95.93 202.27 97.22 202.28 99 204 C100.78 205.72 103.62 210.12 105.3 212.5 C106.98 214.88 107.83 216.88 109.1 218.3 C110.37 219.72 111.42 220.98 112.9 221 C114.38 221.02 116.32 219.35 118 218.4 C119.68 217.45 121.32 215.43 123 215.3 C124.68 215.17 126.5 216.98 128.1 217.6 C129.7 218.22 131 219.18 132.6 219 C134.2 218.82 135.8 217.3 137.7 216.5 C139.6 215.7 141.9 214.77 144 214.2 C146.1 213.63 148.2 212.93 150.3 213.1 C152.4 213.27 154.7 214.12 156.6 215.2 C158.5 216.28 160 217.7 161.7 219.6 C163.4 221.5 165.32 224.38 166.8 226.6 C168.28 228.82 169.45 230.8 170.6 232.9 C171.75 235 172.73 236.52 173.7 239.2 C174.67 241.88 175.53 245.27 176.4 249 C177.27 252.73 178.05 257.38 178.9 261.6 C179.75 265.82 180.75 270.07 181.5 274.3 C182.25 278.53 182.88 283.42 183.4 287 C183.92 290.58 184.3 293.87 184.6 295.8 C184.9 297.73 184.88 299.43 185.2 298.6 C185.52 297.77 185.97 293.8 186.5 290.8 C187.03 287.8 187.77 284.4 188.4 280.6 C189.03 276.8 189.57 272.22 190.3 268 C191.03 263.78 191.85 258.57 192.8 255.3 C193.75 252.03 194.93 249.98 196 248.4 C197.07 246.82 198.03 245.48 199.2 245.8 C200.37 246.12 201.85 248.08 203 250.3 C204.15 252.52 205.15 255.73 206.1 259.1 C207.05 262.47 207.85 266.28 208.7 270.5 C209.55 274.72 210.37 279.33 211.2 284.4 C212.03 289.47 213.28 298.15 213.7 300.9" fill="none" stroke="#1a1a1a" stroke-width="1" stroke-linejoin="round" stroke-linecap="round" />
<path d="M87.1 218.5 C87.58 218.52 87.85 218.88 90 218.6 C92.15 218.32 96.67 217.33 100 216.8 C103.33 216.27 105.83 215.98 110 215.4 C114.17 214.82 119.87 213.8 125 213.3 C130.13 212.8 137.3 212.52 140.8 212.4 C144.3 212.28 143.37 212.13 146 212.6 C148.63 213.07 153.98 214.03 156.6 215.2 C159.22 216.37 160 217.7 161.7 219.6 C163.4 221.5 165.32 224.38 166.8 226.6 C168.28 228.82 169.45 230.8 170.6 232.9 C171.75 235 172.73 236.52 173.7 239.2 C174.67 241.88 175.53 245.27 176.4 249 C177.27 252.73 178.05 257.38 178.9 261.6 C179.75 265.82 180.75 270.07 181.5 274.3 C182.25 278.53 182.88 283.42 183.4 287 C183.92 290.58 184.3 293.87 184.6 295.8 C184.9 297.73 184.88 299.43 185.2 298.6 C185.52 297.77 185.97 293.8 186.5 290.8 C187.03 287.8 187.77 284.4 188.4 280.6 C189.03 276.8 189.57 272.22 190.3 268 C191.03 263.78 191.85 258.57 192.8 255.3 C193.75 252.03 194.93 249.98 196 248.4 C197.07 246.82 198.03 245.48 199.2 245.8 C200.37 246.12 201.85 248.08 203 250.3 C204.15 252.52 205.15 255.73 206.1 259.1 C207.05 262.47 207.85 266.28 208.7 270.5 C209.55 274.72 210.47 279.33 211.2 284.4 C211.93 289.47 212.75 296.15 213.1 300.9 C213.45 305.65 213.27 310.9 213.3 312.9" fill="none" stroke="#1a1a1a" stroke-width="0.9" stroke-linejoin="round" stroke-linecap="round" />
<line x1="213.3" y1="308" x2="213.3" y2="318" stroke="#ffb0b0" stroke-width="0.8" />
<path d="M240.95 217.75h2.3v2.3h-2.3zM241.95 217.78h2.3v2.3h-2.3zM242.95 217.8h2.3v2.3h-2.3zM243.95 217.83h2.3v2.3h-2.3zM244.95 217.85h2.3v2.3h-2.3zM245.95 217.88h2.3v2.3h-2.3zM246.95 217.9h2.3v2.3h-2.3zM247.95 217.93h2.3v2.3h-2.3zM248.95 217.95h2.3v2.3h-2.3zM249.95 217.98h2.3v2.3h-2.3zM250.95 218h2.3v2.3h-2.3zM251.95 218.03h2.3v2.3h-2.3z" fill="#3cf03c"/>
<path d="M252.6 218.4h2.6v2.6h-2.6zM253.85 217.54h2.6v2.6h-2.6zM255.1 216.77h2.6v2.6h-2.6zM256.35 216.21h2.6v2.6h-2.6zM257.6 215.84h2.6v2.6h-2.6zM258.85 215.58h2.6v2.6h-2.6zM260.1 215.39h2.6v2.6h-2.6zM261.35 215.23h2.6v2.6h-2.6zM262.6 215.1h2.6v2.6h-2.6zM263.85 214.98h2.6v2.6h-2.6zM265.1 214.88h2.6v2.6h-2.6zM266.35 214.78h2.6v2.6h-2.6zM267.6 214.68h2.6v2.6h-2.6zM268.85 214.58h2.6v2.6h-2.6zM270.1 214.49h2.6v2.6h-2.6zM271.35 214.39h2.6v2.6h-2.6zM272.6 214.28h2.6v2.6h-2.6zM273.85 214.17h2.6v2.6h-2.6zM275.1 214.06h2.6v2.6h-2.6zM276.35 213.95h2.6v2.6h-2.6zM277.6 213.84h2.6v2.6h-2.6zM278.85 213.73h2.6v2.6h-2.6zM280.1 213.62h2.6v2.6h-2.6zM281.35 213.52h2.6v2.6h-2.6zM282.6 213.41h2.6v2.6h-2.6zM283.85 213.31h2.6v2.6h-2.6zM285.1 213.2h2.6v2.6h-2.6zM286.35 213.09h2.6v2.6h-2.6zM287.6 212.99h2.6v2.6h-2.6zM288.85 212.88h2.6v2.6h-2.6zM290.1 212.77h2.6v2.6h-2.6zM291.35 212.66h2.6v2.6h-2.6zM292.6 212.54h2.6v2.6h-2.6zM293.85 212.41h2.6v2.6h-2.6zM295.1 212.28h2.6v2.6h-2.6zM296.35 212.11h2.6v2.6h-2.6zM297.6 211.89h2.6v2.6h-2.6zM298.85 211.69h2.6v2.6h-2.6zM300.1 211.48h2.6v2.6h-2.6zM301.35 211.24h2.6v2.6h-2.6zM302.6 211h2.6v2.6h-2.6zM303.85 210.78h2.6v2.6h-2.6zM305.1 210.59h2.6v2.6h-2.6zM306.35 210.46h2.6v2.6h-2.6zM307.6 210.4h2.6v2.6h-2.6zM308.85 210.42h2.6v2.6h-2.6zM310.1 210.49h2.6v2.6h-2.6zM311.35 210.61h2.6v2.6h-2.6zM312.6 210.78h2.6v2.6h-2.6zM313.85 211.01h2.6v2.6h-2.6zM315.1 211.3h2.6v2.6h-2.6zM316.35 211.65h2.6v2.6h-2.6zM317.6 212.09h2.6v2.6h-2.6zM318.85 212.62h2.6v2.6h-2.6zM320.1 213.24h2.6v2.6h-2.6zM321.35 213.93h2.6v2.6h-2.6zM322.6 214.7h2.6v2.6h-2.6zM323.85 215.53h2.6v2.6h-2.6zM325.1 216.42h2.6v2.6h-2.6zM326.35 217.38h2.6v2.6h-2.6zM327.6 218.45h2.6v2.6h-2.6zM328.85 219.63h2.6v2.6h-2.6zM330.1 220.94h2.6v2.6h-2.6zM331.35 222.38h2.6v2.6h-2.6zM332.6 223.89h2.6v2.6h-2.6zM333.85 225.67h2.6v2.6h-2.6zM335.1 228.05h2.6v2.6h-2.6zM336.35 231.61h2.6v2.6h-2.6zM337.6 236.71h2.6v2.6h-2.6zM338.85 242h2.6v2.6h-2.6zM340.1 245.81h2.6v2.6h-2.6zM341.35 248.52h2.6v2.6h-2.6zM342.6 251.12h2.6v2.6h-2.6zM343.85 254.91h2.6v2.6h-2.6zM345.1 260.28h2.6v2.6h-2.6zM346.35 265.4h2.6v2.6h-2.6zM347.6 270.5h2.6v2.6h-2.6zM348.85 278.93h2.6v2.6h-2.6zM350.1 288.82h2.6v2.6h-2.6zM351.35 295.58h2.6v2.6h-2.6zM352.6 295.4h2.6v2.6h-2.6zM353.85 290.25h2.6v2.6h-2.6zM355.1 281.29h2.6v2.6h-2.6zM356.35 273.83h2.6v2.6h-2.6zM357.6 267.21h2.6v2.6h-2.6zM358.85 260.4h2.6v2.6h-2.6zM360.1 255.03h2.6v2.6h-2.6zM361.35 251.36h2.6v2.6h-2.6zM362.6 248.91h2.6v2.6h-2.6zM363.85 247.08h2.6v2.6h-2.6zM365.1 245.73h2.6v2.6h-2.6zM366.35 245.16h2.6v2.6h-2.6zM367.6 245.76h2.6v2.6h-2.6zM368.85 247.32h2.6v2.6h-2.6zM370.1 249.58h2.6v2.6h-2.6zM371.35 252.9h2.6v2.6h-2.6zM372.6 257.28h2.6v2.6h-2.6zM373.85 262.58h2.6v2.6h-2.6zM375.1 267.92h2.6v2.6h-2.6zM376.35 274.75h2.6v2.6h-2.6zM377.6 286.15h2.6v2.6h-2.6zM378.85 296.02h2.6v2.6h-2.6zM380.1 312.2h2.6v2.6h-2.6z" fill="#ff2020"/>
<path d="M254.65 209.9h2.5v2.5h-2.5zM255.95 208.23h2.5v2.5h-2.5zM257.25 206.75h2.5v2.5h-2.5zM258.55 205.63h2.5v2.5h-2.5zM259.85 204.75h2.5v2.5h-2.5zM261.15 204.05h2.5v2.5h-2.5zM262.45 203.54h2.5v2.5h-2.5zM263.75 203.26h2.5v2.5h-2.5zM265.05 203.21h2.5v2.5h-2.5zM266.35 203.33h2.5v2.5h-2.5zM267.65 203.57h2.5v2.5h-2.5zM268.95 203.9h2.5v2.5h-2.5zM270.25 204.29h2.5v2.5h-2.5zM271.55 204.74h2.5v2.5h-2.5zM272.85 205.29h2.5v2.5h-2.5zM274.15 205.91h2.5v2.5h-2.5zM275.45 206.59h2.5v2.5h-2.5zM276.75 207.3h2.5v2.5h-2.5zM278.05 208.02h2.5v2.5h-2.5zM279.35 208.83h2.5v2.5h-2.5zM280.65 209.71h2.5v2.5h-2.5zM281.95 210.58h2.5v2.5h-2.5zM283.25 211.3h2.5v2.5h-2.5zM284.55 211.8h2.5v2.5h-2.5zM285.85 212.06h2.5v2.5h-2.5zM287.15 212.07h2.5v2.5h-2.5zM288.45 211.9h2.5v2.5h-2.5zM289.75 211.58h2.5v2.5h-2.5zM291.05 211.2h2.5v2.5h-2.5zM292.35 210.82h2.5v2.5h-2.5zM293.65 210.5h2.5v2.5h-2.5zM294.95 210.09h2.5v2.5h-2.5zM296.25 209.8h2.5v2.5h-2.5zM297.55 209.83h2.5v2.5h-2.5zM298.85 210.25h2.5v2.5h-2.5zM300.15 210.91h2.5v2.5h-2.5zM301.45 211.62h2.5v2.5h-2.5zM302.75 212.25h2.5v2.5h-2.5zM304.05 212.67h2.5v2.5h-2.5zM305.35 212.88h2.5v2.5h-2.5zM306.65 212.95h2.5v2.5h-2.5zM307.95 212.97h2.5v2.5h-2.5zM309.25 213h2.5v2.5h-2.5zM310.55 213.1h2.5v2.5h-2.5zM311.85 213.31h2.5v2.5h-2.5zM313.15 213.58h2.5v2.5h-2.5zM314.45 213.89h2.5v2.5h-2.5zM315.75 214.22h2.5v2.5h-2.5zM317.05 214.6h2.5v2.5h-2.5zM318.35 215.01h2.5v2.5h-2.5zM319.65 215.47h2.5v2.5h-2.5zM320.95 216.01h2.5v2.5h-2.5zM322.25 216.63h2.5v2.5h-2.5zM323.55 217.35h2.5v2.5h-2.5zM324.85 218.17h2.5v2.5h-2.5zM326.15 219.09h2.5v2.5h-2.5zM327.45 220.13h2.5v2.5h-2.5zM328.75 221.34h2.5v2.5h-2.5zM330.05 222.71h2.5v2.5h-2.5zM331.35 224.19h2.5v2.5h-2.5zM332.65 225.74h2.5v2.5h-2.5zM333.95 227.45h2.5v2.5h-2.5zM335.25 229.31h2.5v2.5h-2.5zM336.55 231h2.5v2.5h-2.5zM337.85 233.29h2.5v2.5h-2.5zM339.15 237.99h2.5v2.5h-2.5zM340.45 243.9h2.5v2.5h-2.5zM341.75 249.28h2.5v2.5h-2.5zM343.05 253.91h2.5v2.5h-2.5zM344.35 258.43h2.5v2.5h-2.5zM345.65 263.1h2.5v2.5h-2.5zM346.95 267.84h2.5v2.5h-2.5zM348.25 273.03h2.5v2.5h-2.5zM349.55 278.79h2.5v2.5h-2.5zM350.85 284.66h2.5v2.5h-2.5zM352.15 290.64h2.5v2.5h-2.5zM353.45 296.91h2.5v2.5h-2.5zM354.75 301.62h2.5v2.5h-2.5zM356.05 298.95h2.5v2.5h-2.5zM357.35 293.78h2.5v2.5h-2.5zM358.65 287.24h2.5v2.5h-2.5zM359.95 280.3h2.5v2.5h-2.5zM361.25 273.04h2.5v2.5h-2.5zM362.55 266.64h2.5v2.5h-2.5zM363.85 261.49h2.5v2.5h-2.5zM365.15 258.41h2.5v2.5h-2.5zM366.45 256.63h2.5v2.5h-2.5zM367.75 255.57h2.5v2.5h-2.5zM369.05 255.47h2.5v2.5h-2.5zM370.35 256.7h2.5v2.5h-2.5zM371.65 258.95h2.5v2.5h-2.5zM372.95 262.26h2.5v2.5h-2.5zM374.25 266.75h2.5v2.5h-2.5zM375.55 271.77h2.5v2.5h-2.5zM376.85 277.29h2.5v2.5h-2.5zM378.15 283.37h2.5v2.5h-2.5zM379.45 289.46h2.5v2.5h-2.5z" fill="#3cf03c"/>
<path d="M242.1 218.9 C244.07 218.95 251.82 219.85 253.9 219.2 C255.98 218.55 254.37 216.22 254.6 215 C254.83 213.78 254.48 213.22 255.3 211.9 C256.12 210.58 257.87 208.33 259.5 207.1 C261.13 205.87 263.02 204.73 265.1 204.5 C267.18 204.27 269.68 204.93 272 205.7 C274.32 206.47 276.9 207.95 279 209.1 C281.1 210.25 282.98 211.9 284.6 212.6 C286.22 213.3 287.08 213.42 288.7 213.3 C290.32 213.18 292.6 212.27 294.3 211.9 C296 211.53 297.08 210.77 298.9 211.1 C300.72 211.43 302.88 213.33 305.2 213.9 C307.52 214.47 310.07 213.98 312.8 214.5 C315.53 215.02 319.07 215.95 321.6 217 C324.13 218.05 326.1 219.32 328 220.8 C329.9 222.28 331.53 224.2 333 225.9 C334.47 227.6 335.73 229.42 336.8 231 C337.87 232.58 338.43 232.4 339.4 235.4 C340.37 238.4 341.53 244.83 342.6 249 C343.67 253.17 344.75 256.6 345.8 260.4 C346.85 264.2 347.95 268 348.9 271.8 C349.85 275.6 350.65 279.4 351.5 283.2 C352.35 287 353.27 291.33 354 294.6 C354.73 297.87 355.27 302.17 355.9 302.8 C356.53 303.43 357.17 300.62 357.8 298.4 C358.43 296.18 359.07 292.67 359.7 289.5 C360.33 286.33 360.97 282.78 361.6 279.4 C362.23 276.02 362.77 272.37 363.5 269.2 C364.23 266.03 364.95 262.5 366 260.4 C367.05 258.3 368.63 256.6 369.8 256.6 C370.97 256.6 372.05 258.5 373 260.4 C373.95 262.3 374.67 265.05 375.5 268 C376.33 270.95 377.27 274.93 378 278.1 C378.73 281.27 379.27 284.05 379.9 287 C380.53 289.95 381.48 294.33 381.8 295.8" fill="none" stroke="#8a8a8a" stroke-width="0.8" stroke-linejoin="round" stroke-linecap="round" />
<path d="M253.9 219.2 C254.83 218.93 256.02 218.12 259.5 217.6 C262.98 217.08 269 216.63 274.8 216.1 C280.6 215.57 290.08 214.82 294.3 214.4 C298.52 213.98 297.65 213.95 300.1 213.6 C302.55 213.25 306.05 212.3 309 212.3 C311.95 212.3 315.07 212.82 317.8 213.6 C320.53 214.38 323.07 215.48 325.4 217 C327.73 218.52 329.9 220.48 331.8 222.7 C333.7 224.92 335.32 226.55 336.8 230.3 C338.28 234.05 339.42 241.25 340.7 245.2 C341.98 249.15 343.45 250.83 344.5 254 C345.55 257.17 346.27 261.23 347 264.2 C347.73 267.17 348.37 269.07 348.9 271.8 C349.43 274.53 349.77 277.43 350.2 280.6 C350.63 283.77 351.08 288.05 351.5 290.8 C351.92 293.55 352.4 295.8 352.7 297.1 C353 298.4 352.87 299.65 353.3 298.6 C353.73 297.55 354.77 293.58 355.3 290.8 C355.83 288.02 356.08 284.65 356.5 281.9 C356.92 279.15 357.38 276.62 357.8 274.3 C358.22 271.98 358.47 270.75 359 268 C359.53 265.25 360.25 260.65 361 257.8 C361.75 254.95 362.45 252.78 363.5 250.9 C364.55 249.02 366.15 246.82 367.3 246.5 C368.45 246.18 369.45 247.53 370.4 249 C371.35 250.47 372.15 252.57 373 255.3 C373.85 258.03 374.77 262.23 375.5 265.4 C376.23 268.57 376.87 270.92 377.4 274.3 C377.93 277.68 378.28 282.12 378.7 285.7 C379.12 289.28 379.48 292.85 379.9 295.8 C380.32 298.75 380.95 300.45 381.2 303.4 C381.45 306.35 381.37 311.82 381.4 313.5" fill="none" stroke="#8a8a8a" stroke-width="0.8" stroke-linejoin="round" stroke-linecap="round" />
<path d="M72.15 351.15h2.3v2.3h-2.3zM73.15 351.15h2.3v2.3h-2.3zM74.15 351.15h2.3v2.3h-2.3zM75.15 351.15h2.3v2.3h-2.3zM76.15 351.15h2.3v2.3h-2.3zM77.15 351.15h2.3v2.3h-2.3zM78.15 351.15h2.3v2.3h-2.3zM79.15 351.15h2.3v2.3h-2.3zM80.15 351.15h2.3v2.3h-2.3zM81.15 351.15h2.3v2.3h-2.3zM82.15 351.15h2.3v2.3h-2.3zM83.15 351.15h2.3v2.3h-2.3zM84.15 351.15h2.3v2.3h-2.3zM85.15 351.15h2.3v2.3h-2.3z" fill="#ff20ff"/>
<path d="M86.05 350.45h2.3v2.3h-2.3zM87.3 350.3h2.3v2.3h-2.3zM88.55 350.15h2.3v2.3h-2.3zM89.8 349.99h2.3v2.3h-2.3zM91.05 349.84h2.3v2.3h-2.3zM92.3 349.69h2.3v2.3h-2.3zM93.55 349.54h2.3v2.3h-2.3zM94.8 349.4h2.3v2.3h-2.3zM96.05 349.26h2.3v2.3h-2.3zM97.3 349.12h2.3v2.3h-2.3zM98.55 348.99h2.3v2.3h-2.3zM99.8 348.86h2.3v2.3h-2.3zM101.05 348.72h2.3v2.3h-2.3zM102.3 348.59h2.3v2.3h-2.3zM103.55 348.47h2.3v2.3h-2.3zM104.8 348.34h2.3v2.3h-2.3zM106.05 348.22h2.3v2.3h-2.3zM107.3 348.09h2.3v2.3h-2.3zM108.55 347.98h2.3v2.3h-2.3zM109.8 347.87h2.3v2.3h-2.3zM111.05 347.76h2.3v2.3h-2.3zM112.3 347.66h2.3v2.3h-2.3zM113.55 347.57h2.3v2.3h-2.3zM114.8 347.47h2.3v2.3h-2.3zM116.05 347.38h2.3v2.3h-2.3zM117.3 347.29h2.3v2.3h-2.3zM118.55 347.19h2.3v2.3h-2.3zM119.8 347.09h2.3v2.3h-2.3zM121.05 346.97h2.3v2.3h-2.3zM122.3 346.83h2.3v2.3h-2.3zM123.55 346.67h2.3v2.3h-2.3zM124.8 346.51h2.3v2.3h-2.3zM126.05 346.39h2.3v2.3h-2.3zM127.3 346.29h2.3v2.3h-2.3zM128.55 346.18h2.3v2.3h-2.3zM129.8 346.08h2.3v2.3h-2.3zM131.05 345.98h2.3v2.3h-2.3zM132.3 345.89h2.3v2.3h-2.3zM133.55 345.8h2.3v2.3h-2.3zM134.8 345.74h2.3v2.3h-2.3zM136.05 345.68h2.3v2.3h-2.3zM137.3 345.65h2.3v2.3h-2.3zM138.55 345.65h2.3v2.3h-2.3zM139.8 345.64h2.3v2.3h-2.3zM141.05 345.64h2.3v2.3h-2.3zM142.3 345.65h2.3v2.3h-2.3zM143.55 345.68h2.3v2.3h-2.3zM144.8 345.74h2.3v2.3h-2.3zM146.05 345.83h2.3v2.3h-2.3zM147.3 345.97h2.3v2.3h-2.3zM148.55 346.18h2.3v2.3h-2.3zM149.8 346.51h2.3v2.3h-2.3zM151.05 346.96h2.3v2.3h-2.3zM152.3 347.56h2.3v2.3h-2.3zM153.55 348.3h2.3v2.3h-2.3zM154.8 349.13h2.3v2.3h-2.3zM156.05 349.99h2.3v2.3h-2.3zM157.3 350.87h2.3v2.3h-2.3zM158.55 351.84h2.3v2.3h-2.3zM159.8 352.95h2.3v2.3h-2.3zM161.05 354.27h2.3v2.3h-2.3zM162.3 355.93h2.3v2.3h-2.3zM163.55 358.12h2.3v2.3h-2.3zM164.8 360.71h2.3v2.3h-2.3zM166.05 363.31h2.3v2.3h-2.3zM167.3 365.99h2.3v2.3h-2.3zM168.55 368.93h2.3v2.3h-2.3zM169.8 372.39h2.3v2.3h-2.3zM171.05 376.51h2.3v2.3h-2.3zM172.3 381.25h2.3v2.3h-2.3zM173.55 386.69h2.3v2.3h-2.3zM174.8 393.24h2.3v2.3h-2.3zM176.05 399.96h2.3v2.3h-2.3zM177.3 406.65h2.3v2.3h-2.3zM178.55 412.8h2.3v2.3h-2.3zM179.8 418.52h2.3v2.3h-2.3zM181.05 422.48h2.3v2.3h-2.3zM182.3 416.53h2.3v2.3h-2.3zM183.55 408.22h2.3v2.3h-2.3zM184.8 400.68h2.3v2.3h-2.3zM186.05 394.18h2.3v2.3h-2.3zM187.3 387.12h2.3v2.3h-2.3zM188.55 381.38h2.3v2.3h-2.3zM189.8 377.14h2.3v2.3h-2.3zM191.05 374.15h2.3v2.3h-2.3zM192.3 371.97h2.3v2.3h-2.3zM193.55 370.32h2.3v2.3h-2.3zM194.8 369.35h2.3v2.3h-2.3zM196.05 369.35h2.3v2.3h-2.3zM197.3 370.18h2.3v2.3h-2.3zM198.55 371.6h2.3v2.3h-2.3zM199.8 373.5h2.3v2.3h-2.3zM201.05 376.14h2.3v2.3h-2.3zM202.3 379.49h2.3v2.3h-2.3zM203.55 383.5h2.3v2.3h-2.3zM204.8 388.47h2.3v2.3h-2.3zM206.05 394.13h2.3v2.3h-2.3zM207.3 400.8h2.3v2.3h-2.3zM208.55 408.29h2.3v2.3h-2.3zM209.8 416.94h2.3v2.3h-2.3zM211.05 430.14h2.3v2.3h-2.3zM212.3 452.4h2.3v2.3h-2.3z" fill="#2020f0"/>
<path d="M87.65 342.68h2.3v2.3h-2.3zM88.9 341.09h2.3v2.3h-2.3zM90.15 340.18h2.3v2.3h-2.3zM91.4 339.54h2.3v2.3h-2.3zM92.65 339.02h2.3v2.3h-2.3zM93.9 338.59h2.3v2.3h-2.3zM95.15 338.29h2.3v2.3h-2.3zM96.4 338.14h2.3v2.3h-2.3zM97.65 338.17h2.3v2.3h-2.3zM98.9 338.35h2.3v2.3h-2.3zM100.15 338.65h2.3v2.3h-2.3zM101.4 339.05h2.3v2.3h-2.3zM102.65 339.54h2.3v2.3h-2.3zM103.9 340.18h2.3v2.3h-2.3zM105.15 340.99h2.3v2.3h-2.3zM106.4 341.93h2.3v2.3h-2.3zM107.65 342.93h2.3v2.3h-2.3zM108.9 344.18h2.3v2.3h-2.3zM110.15 345.6h2.3v2.3h-2.3zM111.4 346.68h2.3v2.3h-2.3zM112.65 347.26h2.3v2.3h-2.3zM113.9 347.5h2.3v2.3h-2.3zM115.15 347.55h2.3v2.3h-2.3zM116.4 347.48h2.3v2.3h-2.3zM117.65 347.29h2.3v2.3h-2.3zM118.9 347.01h2.3v2.3h-2.3zM120.15 346.68h2.3v2.3h-2.3zM121.4 346.21h2.3v2.3h-2.3zM122.65 345.62h2.3v2.3h-2.3zM123.9 345.02h2.3v2.3h-2.3zM125.15 344.53h2.3v2.3h-2.3zM126.4 344.27h2.3v2.3h-2.3zM127.65 344.29h2.3v2.3h-2.3zM128.9 344.55h2.3v2.3h-2.3zM130.15 344.92h2.3v2.3h-2.3zM131.4 345.28h2.3v2.3h-2.3zM132.65 345.56h2.3v2.3h-2.3zM133.9 345.66h2.3v2.3h-2.3zM135.15 345.61h2.3v2.3h-2.3zM136.4 345.49h2.3v2.3h-2.3zM137.65 345.32h2.3v2.3h-2.3zM138.9 345.15h2.3v2.3h-2.3zM140.15 345.01h2.3v2.3h-2.3zM141.4 344.94h2.3v2.3h-2.3zM142.65 344.99h2.3v2.3h-2.3zM143.9 345.09h2.3v2.3h-2.3zM145.15 345.27h2.3v2.3h-2.3zM146.4 345.52h2.3v2.3h-2.3zM147.65 345.86h2.3v2.3h-2.3zM148.9 346.27h2.3v2.3h-2.3zM150.15 346.75h2.3v2.3h-2.3zM151.4 347.31h2.3v2.3h-2.3zM152.65 347.94h2.3v2.3h-2.3zM153.9 348.63h2.3v2.3h-2.3zM155.15 349.39h2.3v2.3h-2.3zM156.4 350.23h2.3v2.3h-2.3zM157.65 351.13h2.3v2.3h-2.3zM158.9 352.14h2.3v2.3h-2.3zM160.15 353.29h2.3v2.3h-2.3zM161.4 354.69h2.3v2.3h-2.3zM162.65 356.49h2.3v2.3h-2.3zM163.9 358.82h2.3v2.3h-2.3zM165.15 361.44h2.3v2.3h-2.3zM166.4 364.05h2.3v2.3h-2.3zM167.65 366.78h2.3v2.3h-2.3zM168.9 369.83h2.3v2.3h-2.3zM170.15 373.48h2.3v2.3h-2.3zM171.4 377.78h2.3v2.3h-2.3zM172.65 382.69h2.3v2.3h-2.3zM173.9 388.43h2.3v2.3h-2.3zM175.15 395.17h2.3v2.3h-2.3zM176.4 401.84h2.3v2.3h-2.3zM177.65 408.45h2.3v2.3h-2.3zM178.9 414.43h2.3v2.3h-2.3zM180.15 420.43h2.3v2.3h-2.3zM181.4 421.16h2.3v2.3h-2.3zM182.65 414.55h2.3v2.3h-2.3zM183.9 405.78h2.3v2.3h-2.3zM185.15 398.85h2.3v2.3h-2.3zM186.4 392.28h2.3v2.3h-2.3zM187.65 385.26h2.3v2.3h-2.3zM188.9 380.07h2.3v2.3h-2.3zM190.15 376.18h2.3v2.3h-2.3zM191.4 373.49h2.3v2.3h-2.3zM192.65 371.45h2.3v2.3h-2.3zM193.9 369.97h2.3v2.3h-2.3zM195.15 369.25h2.3v2.3h-2.3zM196.4 369.52h2.3v2.3h-2.3zM197.65 370.52h2.3v2.3h-2.3zM198.9 372.08h2.3v2.3h-2.3zM200.15 374.16h2.3v2.3h-2.3zM201.4 377.01h2.3v2.3h-2.3zM202.65 380.54h2.3v2.3h-2.3zM203.9 384.8h2.3v2.3h-2.3zM205.15 390h2.3v2.3h-2.3zM206.4 395.87h2.3v2.3h-2.3zM207.65 402.85h2.3v2.3h-2.3zM208.9 410.51h2.3v2.3h-2.3zM210.15 420.04h2.3v2.3h-2.3zM211.4 434.59h2.3v2.3h-2.3z" fill="#ff20ff"/>
<path d="M73.3 352.3 C75.62 352.3 84.83 353.02 87.2 352.3 C89.57 351.58 87.33 349.27 87.5 348 C87.67 346.73 87.62 345.78 88.2 344.7 C88.78 343.62 89.48 342.4 91 341.5 C92.52 340.6 95.2 339.45 97.3 339.3 C99.4 339.15 101.7 339.82 103.6 340.6 C105.5 341.38 107.22 342.8 108.7 344 C110.18 345.2 111.23 347.02 112.5 347.8 C113.77 348.58 114.82 348.7 116.3 348.7 C117.78 348.7 119.5 348.35 121.4 347.8 C123.3 347.25 125.48 345.57 127.7 345.4 C129.92 345.23 132.13 346.68 134.7 346.8 C137.27 346.92 140.55 346 143.1 346.1 C145.65 346.2 147.68 346.58 150 347.4 C152.32 348.22 154.9 349.58 157 351 C159.1 352.42 161.03 353.93 162.6 355.9 C164.17 357.87 165.07 360.03 166.4 362.8 C167.73 365.57 169.32 368.78 170.6 372.5 C171.88 376.22 173.07 380.68 174.1 385.1 C175.13 389.52 176 394.83 176.8 399 C177.6 403.17 178.2 406.62 178.9 410.1 C179.6 413.58 180.48 417.57 181 419.9 C181.52 422.23 181.53 424.8 182 424.1 C182.47 423.4 183.27 418.72 183.8 415.7 C184.33 412.68 184.62 409.48 185.2 406 C185.78 402.52 186.6 398.52 187.3 394.8 C188 391.08 188.58 386.95 189.4 383.7 C190.22 380.45 191.05 377.52 192.2 375.3 C193.35 373.08 194.92 370.63 196.3 370.4 C197.68 370.17 199.22 371.92 200.5 373.9 C201.78 375.88 202.95 379.05 204 382.3 C205.05 385.55 205.98 389.68 206.8 393.4 C207.62 397.12 208.2 400.42 208.9 404.6 C209.6 408.78 210.42 413.63 211 418.5 C211.58 423.37 212.02 429.05 212.4 433.8 C212.78 438.55 213.15 444.8 213.3 447" fill="none" stroke="#8a8a8a" stroke-width="0.8" stroke-linejoin="round" stroke-linecap="round" />
<path d="M87.2 352.3 C88.88 351.98 93.5 350.93 97.3 350.4 C101.1 349.87 105.98 349.47 110 349.1 C114.02 348.73 118.45 348.47 121.4 348.2 C124.35 347.93 124.78 347.73 127.7 347.5 C130.62 347.27 135.18 346.82 138.9 346.8 C142.62 346.78 146.98 346.7 150 347.4 C153.02 348.1 154.9 349.58 157 351 C159.1 352.42 161.03 353.93 162.6 355.9 C164.17 357.87 165.07 360.03 166.4 362.8 C167.73 365.57 169.32 368.78 170.6 372.5 C171.88 376.22 173.07 380.68 174.1 385.1 C175.13 389.52 176 394.83 176.8 399 C177.6 403.17 178.2 406.62 178.9 410.1 C179.6 413.58 180.48 417.57 181 419.9 C181.52 422.23 181.53 424.8 182 424.1 C182.47 423.4 183.27 418.72 183.8 415.7 C184.33 412.68 184.62 409.48 185.2 406 C185.78 402.52 186.6 398.52 187.3 394.8 C188 391.08 188.58 386.95 189.4 383.7 C190.22 380.45 191.05 377.52 192.2 375.3 C193.35 373.08 194.92 370.63 196.3 370.4 C197.68 370.17 199.22 371.92 200.5 373.9 C201.78 375.88 202.95 379.05 204 382.3 C205.05 385.55 205.98 389.68 206.8 393.4 C207.62 397.12 208.2 400.42 208.9 404.6 C209.6 408.78 210.42 413.63 211 418.5 C211.58 423.37 212.07 429.62 212.4 433.8 C212.73 437.98 212.82 440.12 213 443.6 C213.18 447.08 213.42 452.85 213.5 454.7" fill="none" stroke="#8a8a8a" stroke-width="0.8" stroke-linejoin="round" stroke-linecap="round" />
<path d="M241.85 351.35h2.3v2.3h-2.3zM242.85 351.35h2.3v2.3h-2.3zM243.85 351.35h2.3v2.3h-2.3zM244.85 351.35h2.3v2.3h-2.3zM245.85 351.35h2.3v2.3h-2.3zM246.85 351.35h2.3v2.3h-2.3zM247.85 351.35h2.3v2.3h-2.3zM248.85 351.35h2.3v2.3h-2.3zM249.85 351.35h2.3v2.3h-2.3zM250.85 351.35h2.3v2.3h-2.3z" fill="#ff20ff"/>
<path d="M252.35 352.45h2.3v2.3h-2.3zM253.6 351.28h2.3v2.3h-2.3zM254.85 350.45h2.3v2.3h-2.3zM256.1 350.01h2.3v2.3h-2.3zM257.35 349.84h2.3v2.3h-2.3zM258.6 349.68h2.3v2.3h-2.3zM259.85 349.53h2.3v2.3h-2.3zM261.1 349.38h2.3v2.3h-2.3zM262.35 349.24h2.3v2.3h-2.3zM263.6 349.1h2.3v2.3h-2.3zM264.85 348.97h2.3v2.3h-2.3zM266.1 348.83h2.3v2.3h-2.3zM267.35 348.7h2.3v2.3h-2.3zM268.6 348.56h2.3v2.3h-2.3zM269.85 348.43h2.3v2.3h-2.3zM271.1 348.29h2.3v2.3h-2.3zM272.35 348.15h2.3v2.3h-2.3zM273.6 348.01h2.3v2.3h-2.3zM274.85 347.86h2.3v2.3h-2.3zM276.1 347.71h2.3v2.3h-2.3zM277.35 347.55h2.3v2.3h-2.3zM278.6 347.38h2.3v2.3h-2.3zM279.85 347.2h2.3v2.3h-2.3zM281.1 347h2.3v2.3h-2.3zM282.35 346.79h2.3v2.3h-2.3zM283.6 346.55h2.3v2.3h-2.3zM284.85 346.31h2.3v2.3h-2.3zM286.1 346.06h2.3v2.3h-2.3zM287.35 345.81h2.3v2.3h-2.3zM288.6 345.57h2.3v2.3h-2.3zM289.85 345.34h2.3v2.3h-2.3zM291.1 345.12h2.3v2.3h-2.3zM292.35 344.94h2.3v2.3h-2.3zM293.6 344.78h2.3v2.3h-2.3zM294.85 344.65h2.3v2.3h-2.3zM296.1 344.54h2.3v2.3h-2.3zM297.35 344.44h2.3v2.3h-2.3zM298.6 344.36h2.3v2.3h-2.3zM299.85 344.3h2.3v2.3h-2.3zM301.1 344.25h2.3v2.3h-2.3zM302.35 344.22h2.3v2.3h-2.3zM303.6 344.2h2.3v2.3h-2.3zM304.85 344.19h2.3v2.3h-2.3zM306.1 344.21h2.3v2.3h-2.3zM307.35 344.24h2.3v2.3h-2.3zM308.6 344.29h2.3v2.3h-2.3zM309.85 344.36h2.3v2.3h-2.3zM311.1 344.47h2.3v2.3h-2.3zM312.35 344.6h2.3v2.3h-2.3zM313.6 344.78h2.3v2.3h-2.3zM314.85 345h2.3v2.3h-2.3zM316.1 345.27h2.3v2.3h-2.3zM317.35 345.59h2.3v2.3h-2.3zM318.6 345.99h2.3v2.3h-2.3zM319.85 346.47h2.3v2.3h-2.3zM321.1 347.05h2.3v2.3h-2.3zM322.35 347.75h2.3v2.3h-2.3zM323.6 348.55h2.3v2.3h-2.3zM324.85 349.45h2.3v2.3h-2.3zM326.1 350.48h2.3v2.3h-2.3zM327.35 351.66h2.3v2.3h-2.3zM328.6 353h2.3v2.3h-2.3zM329.85 354.5h2.3v2.3h-2.3zM331.1 356.21h2.3v2.3h-2.3zM332.35 358.21h2.3v2.3h-2.3zM333.6 360.48h2.3v2.3h-2.3zM334.85 363h2.3v2.3h-2.3zM336.1 366.05h2.3v2.3h-2.3zM337.35 369.49h2.3v2.3h-2.3zM338.6 373.25h2.3v2.3h-2.3zM339.85 377.61h2.3v2.3h-2.3zM341.1 382.46h2.3v2.3h-2.3zM342.35 387.69h2.3v2.3h-2.3zM343.6 393.73h2.3v2.3h-2.3zM344.85 399.98h2.3v2.3h-2.3zM346.1 406.45h2.3v2.3h-2.3zM347.35 415.8h2.3v2.3h-2.3zM348.6 423.18h2.3v2.3h-2.3zM349.85 415.15h2.3v2.3h-2.3zM351.1 405.1h2.3v2.3h-2.3zM352.35 396.12h2.3v2.3h-2.3zM353.6 389.36h2.3v2.3h-2.3zM354.85 383.28h2.3v2.3h-2.3zM356.1 377.74h2.3v2.3h-2.3zM357.35 373.29h2.3v2.3h-2.3zM358.6 369.88h2.3v2.3h-2.3zM359.85 367.5h2.3v2.3h-2.3zM361.1 365.63h2.3v2.3h-2.3zM362.35 364.46h2.3v2.3h-2.3zM363.6 364.39h2.3v2.3h-2.3zM364.85 365.47h2.3v2.3h-2.3zM366.1 367.23h2.3v2.3h-2.3zM367.35 369.32h2.3v2.3h-2.3zM368.6 371.84h2.3v2.3h-2.3zM369.85 375.47h2.3v2.3h-2.3zM371.1 380.3h2.3v2.3h-2.3zM372.35 386.13h2.3v2.3h-2.3zM373.6 392.74h2.3v2.3h-2.3zM374.85 400.58h2.3v2.3h-2.3zM376.1 410.14h2.3v2.3h-2.3zM377.35 422.1h2.3v2.3h-2.3zM378.6 434.74h2.3v2.3h-2.3zM379.85 459.65h2.3v2.3h-2.3z" fill="#2020f0"/>
<path d="M255.45 349.93h2.3v2.3h-2.3zM256.7 349.95h2.3v2.3h-2.3zM257.95 349.9h2.3v2.3h-2.3zM259.2 349.83h2.3v2.3h-2.3zM260.45 349.74h2.3v2.3h-2.3zM261.7 349.66h2.3v2.3h-2.3zM262.95 349.57h2.3v2.3h-2.3zM264.2 349.48h2.3v2.3h-2.3zM265.45 349.38h2.3v2.3h-2.3zM266.7 349.29h2.3v2.3h-2.3zM267.95 349.2h2.3v2.3h-2.3zM269.2 349.1h2.3v2.3h-2.3zM270.45 349.01h2.3v2.3h-2.3zM271.7 348.91h2.3v2.3h-2.3zM272.95 348.81h2.3v2.3h-2.3zM274.2 348.72h2.3v2.3h-2.3zM275.45 348.62h2.3v2.3h-2.3zM276.7 348.52h2.3v2.3h-2.3zM277.95 348.42h2.3v2.3h-2.3zM279.2 348.32h2.3v2.3h-2.3zM280.45 348.22h2.3v2.3h-2.3zM281.7 348.11h2.3v2.3h-2.3zM282.95 348h2.3v2.3h-2.3zM284.2 347.89h2.3v2.3h-2.3zM285.45 347.78h2.3v2.3h-2.3zM286.7 347.67h2.3v2.3h-2.3zM287.95 347.55h2.3v2.3h-2.3zM289.2 347.44h2.3v2.3h-2.3zM290.45 347.33h2.3v2.3h-2.3zM291.7 347.22h2.3v2.3h-2.3zM292.95 347.12h2.3v2.3h-2.3zM294.2 347.02h2.3v2.3h-2.3zM295.45 346.92h2.3v2.3h-2.3zM296.7 346.82h2.3v2.3h-2.3zM297.95 346.72h2.3v2.3h-2.3zM299.2 346.61h2.3v2.3h-2.3zM300.45 346.51h2.3v2.3h-2.3zM301.7 346.42h2.3v2.3h-2.3zM302.95 346.33h2.3v2.3h-2.3zM304.2 346.26h2.3v2.3h-2.3zM305.45 346.2h2.3v2.3h-2.3zM306.7 346.16h2.3v2.3h-2.3zM307.95 346.15h2.3v2.3h-2.3zM309.2 346.16h2.3v2.3h-2.3zM310.45 346.2h2.3v2.3h-2.3zM311.7 346.26h2.3v2.3h-2.3zM312.95 346.36h2.3v2.3h-2.3zM314.2 346.49h2.3v2.3h-2.3zM315.45 346.66h2.3v2.3h-2.3zM316.7 346.87h2.3v2.3h-2.3zM317.95 347.14h2.3v2.3h-2.3zM319.2 347.48h2.3v2.3h-2.3zM320.45 347.91h2.3v2.3h-2.3zM321.7 348.43h2.3v2.3h-2.3zM322.95 349.04h2.3v2.3h-2.3zM324.2 349.71h2.3v2.3h-2.3zM325.45 350.41h2.3v2.3h-2.3zM326.7 351.14h2.3v2.3h-2.3zM327.95 351.93h2.3v2.3h-2.3zM329.2 352.79h2.3v2.3h-2.3zM330.45 353.79h2.3v2.3h-2.3zM331.7 355.02h2.3v2.3h-2.3zM332.95 356.54h2.3v2.3h-2.3zM334.2 358.54h2.3v2.3h-2.3zM335.45 361.26h2.3v2.3h-2.3zM336.7 364.89h2.3v2.3h-2.3zM337.95 369.48h2.3v2.3h-2.3zM339.2 373.96h2.3v2.3h-2.3zM340.45 377.6h2.3v2.3h-2.3zM341.7 380.85h2.3v2.3h-2.3zM342.95 384.13h2.3v2.3h-2.3zM344.2 387.9h2.3v2.3h-2.3zM345.45 392.3h2.3v2.3h-2.3zM346.7 396.94h2.3v2.3h-2.3zM347.95 401.73h2.3v2.3h-2.3zM349.2 408.35h2.3v2.3h-2.3zM350.45 416.03h2.3v2.3h-2.3zM351.7 422.34h2.3v2.3h-2.3zM352.95 420.45h2.3v2.3h-2.3zM354.2 414.5h2.3v2.3h-2.3zM355.45 408.15h2.3v2.3h-2.3zM356.7 402.12h2.3v2.3h-2.3zM357.95 396.89h2.3v2.3h-2.3zM359.2 392.33h2.3v2.3h-2.3zM360.45 388.36h2.3v2.3h-2.3zM361.7 385.07h2.3v2.3h-2.3zM362.95 382.61h2.3v2.3h-2.3zM364.2 380.72h2.3v2.3h-2.3zM365.45 379.28h2.3v2.3h-2.3zM366.7 378.63h2.3v2.3h-2.3zM367.95 378.9h2.3v2.3h-2.3zM369.2 379.91h2.3v2.3h-2.3zM370.45 381.76h2.3v2.3h-2.3zM371.7 384.91h2.3v2.3h-2.3zM372.95 388.99h2.3v2.3h-2.3zM374.2 393.74h2.3v2.3h-2.3zM375.45 399h2.3v2.3h-2.3zM376.7 404.25h2.3v2.3h-2.3zM377.95 409.81h2.3v2.3h-2.3zM379.2 416.84h2.3v2.3h-2.3zM380.45 425.55h2.3v2.3h-2.3z" fill="#ff20ff"/>
<path d="M243 352.5 C244.65 352.5 251.07 352.25 252.9 352.5 C254.73 352.75 253.48 354.32 254 354 C254.52 353.68 255 351.1 256 350.6 C257 350.1 256 351.18 260 351 C264 350.82 274.17 349.97 280 349.5 C285.83 349.03 290.18 348.57 295 348.2 C299.82 347.83 304.95 347.3 308.9 347.3 C312.85 347.3 315.92 347.58 318.7 348.2 C321.48 348.82 323.28 349.72 325.6 351 C327.92 352.28 330.73 353.92 332.6 355.9 C334.47 357.88 335.47 359.57 336.8 362.9 C338.13 366.23 339.28 371.88 340.6 375.9 C341.92 379.92 343.55 383.52 344.7 387 C345.85 390.48 346.68 393.78 347.5 396.8 C348.32 399.82 349.02 402.32 349.6 405.1 C350.18 407.88 350.42 410.37 351 413.5 C351.58 416.63 352.4 423.43 353.1 423.9 C353.8 424.37 354.62 418.73 355.2 416.3 C355.78 413.87 356.02 412.08 356.6 409.3 C357.18 406.52 357.88 402.85 358.7 399.6 C359.52 396.35 360.58 392.47 361.5 389.8 C362.42 387.13 363.17 385.27 364.2 383.6 C365.23 381.93 366.53 380.03 367.7 379.8 C368.87 379.57 370.15 380.53 371.2 382.2 C372.25 383.87 373.07 386.67 374 389.8 C374.93 392.93 375.87 397.05 376.8 401 C377.73 404.95 378.78 409.1 379.6 413.5 C380.42 417.9 381.23 424.15 381.7 427.4 C382.17 430.65 382.28 432.07 382.4 433" fill="none" stroke="#8a8a8a" stroke-width="0.8" stroke-linejoin="round" stroke-linecap="round" />
<path d="M252.9 352.5 C253.42 352.35 254.82 351.88 256 351.6 C257.18 351.32 256 351.32 260 350.8 C264 350.28 274.17 349.32 280 348.5 C285.83 347.68 290.18 346.42 295 345.9 C299.82 345.38 304.95 345.25 308.9 345.4 C312.85 345.55 315.92 345.98 318.7 346.8 C321.48 347.62 323.52 348.78 325.6 350.3 C327.68 351.82 329.57 353.8 331.2 355.9 C332.83 358 334.23 360.58 335.4 362.9 C336.57 365.22 337.33 367.4 338.2 369.8 C339.07 372.2 339.73 374.2 340.6 377.3 C341.47 380.4 342.6 384.92 343.4 388.4 C344.2 391.88 344.75 394.95 345.4 398.2 C346.05 401.45 346.77 404.65 347.3 407.9 C347.83 411.15 348.22 414.92 348.6 417.7 C348.98 420.48 349.2 424.83 349.6 424.6 C350 424.37 350.53 419.55 351 416.3 C351.47 413.05 351.93 408.58 352.4 405.1 C352.87 401.62 353.33 398.18 353.8 395.4 C354.27 392.62 354.62 391.18 355.2 388.4 C355.78 385.62 356.48 381.72 357.3 378.7 C358.12 375.68 358.95 372.52 360.1 370.3 C361.25 368.08 362.82 365.4 364.2 365.4 C365.58 365.4 367.23 368.32 368.4 370.3 C369.57 372.28 370.27 374.05 371.2 377.3 C372.13 380.55 373.18 385.62 374 389.8 C374.82 393.98 375.52 398.45 376.1 402.4 C376.68 406.35 377.03 409.33 377.5 413.5 C377.97 417.67 378.43 422.53 378.9 427.4 C379.37 432.27 379.95 437.13 380.3 442.7 C380.65 448.27 380.82 456.85 381 460.8 C381.18 464.75 381.33 465.47 381.4 466.4" fill="none" stroke="#8a8a8a" stroke-width="0.8" stroke-linejoin="round" stroke-linecap="round" />
<rect x="59.5" y="521.2" width="165.8" height="136.1" fill="none" stroke="#7a7a7a" stroke-width="1"/>
<line x1="59.5" y1="648.73" x2="61.7" y2="648.73" stroke="#7a7a7a" stroke-width="1" />
<line x1="59.5" y1="631.7" x2="61.7" y2="631.7" stroke="#7a7a7a" stroke-width="1" />
<line x1="59.5" y1="614.68" x2="61.7" y2="614.68" stroke="#7a7a7a" stroke-width="1" />
<line x1="59.5" y1="597.65" x2="61.7" y2="597.65" stroke="#7a7a7a" stroke-width="1" />
<line x1="59.5" y1="580.62" x2="61.7" y2="580.62" stroke="#7a7a7a" stroke-width="1" />
<line x1="59.5" y1="563.6" x2="61.7" y2="563.6" stroke="#7a7a7a" stroke-width="1" />
<line x1="59.5" y1="546.58" x2="61.7" y2="546.58" stroke="#7a7a7a" stroke-width="1" />
<line x1="59.5" y1="529.55" x2="61.7" y2="529.55" stroke="#7a7a7a" stroke-width="1" />
<line x1="77.95" y1="657.3" x2="77.95" y2="655.1" stroke="#7a7a7a" stroke-width="1" />
<line x1="96.4" y1="657.3" x2="96.4" y2="655.1" stroke="#7a7a7a" stroke-width="1" />
<line x1="114.85" y1="657.3" x2="114.85" y2="655.1" stroke="#7a7a7a" stroke-width="1" />
<line x1="133.3" y1="657.3" x2="133.3" y2="655.1" stroke="#7a7a7a" stroke-width="1" />
<line x1="151.75" y1="657.3" x2="151.75" y2="655.1" stroke="#7a7a7a" stroke-width="1" />
<line x1="170.2" y1="657.3" x2="170.2" y2="655.1" stroke="#7a7a7a" stroke-width="1" />
<line x1="188.65" y1="657.3" x2="188.65" y2="655.1" stroke="#7a7a7a" stroke-width="1" />
<line x1="207.1" y1="657.3" x2="207.1" y2="655.1" stroke="#7a7a7a" stroke-width="1" />
<rect x="225.3" y="521.2" width="166.4" height="136.1" fill="none" stroke="#7a7a7a" stroke-width="1"/>
<line x1="225.3" y1="648.73" x2="227.5" y2="648.73" stroke="#7a7a7a" stroke-width="1" />
<line x1="225.3" y1="631.7" x2="227.5" y2="631.7" stroke="#7a7a7a" stroke-width="1" />
<line x1="225.3" y1="614.68" x2="227.5" y2="614.68" stroke="#7a7a7a" stroke-width="1" />
<line x1="225.3" y1="597.65" x2="227.5" y2="597.65" stroke="#7a7a7a" stroke-width="1" />
<line x1="225.3" y1="580.62" x2="227.5" y2="580.62" stroke="#7a7a7a" stroke-width="1" />
<line x1="225.3" y1="563.6" x2="227.5" y2="563.6" stroke="#7a7a7a" stroke-width="1" />
<line x1="225.3" y1="546.58" x2="227.5" y2="546.58" stroke="#7a7a7a" stroke-width="1" />
<line x1="225.3" y1="529.55" x2="227.5" y2="529.55" stroke="#7a7a7a" stroke-width="1" />
<line x1="243.75" y1="657.3" x2="243.75" y2="655.1" stroke="#7a7a7a" stroke-width="1" />
<line x1="262.2" y1="657.3" x2="262.2" y2="655.1" stroke="#7a7a7a" stroke-width="1" />
<line x1="280.65" y1="657.3" x2="280.65" y2="655.1" stroke="#7a7a7a" stroke-width="1" />
<line x1="299.1" y1="657.3" x2="299.1" y2="655.1" stroke="#7a7a7a" stroke-width="1" />
<line x1="317.55" y1="657.3" x2="317.55" y2="655.1" stroke="#7a7a7a" stroke-width="1" />
<line x1="336" y1="657.3" x2="336" y2="655.1" stroke="#7a7a7a" stroke-width="1" />
<line x1="354.45" y1="657.3" x2="354.45" y2="655.1" stroke="#7a7a7a" stroke-width="1" />
<line x1="372.9" y1="657.3" x2="372.9" y2="655.1" stroke="#7a7a7a" stroke-width="1" />
<text x="55.6" y="534.05" font-size="13.2" text-anchor="end" fill="#111"  stroke="#111" stroke-width="0.4">100</text>
<text x="55.6" y="568.1" font-size="13.2" text-anchor="end" fill="#111"  stroke="#111" stroke-width="0.4">0</text>
<text x="55.6" y="602.15" font-size="13.2" text-anchor="end" fill="#111"  stroke="#111" stroke-width="0.4">-100</text>
<text x="55.6" y="636.2" font-size="13.2" text-anchor="end" fill="#111"  stroke="#111" stroke-width="0.4">-200</text>
<rect x="59.5" y="657.3" width="165.8" height="136.3" fill="none" stroke="#7a7a7a" stroke-width="1"/>
<line x1="59.5" y1="784.62" x2="61.7" y2="784.62" stroke="#7a7a7a" stroke-width="1" />
<line x1="59.5" y1="767.6" x2="61.7" y2="767.6" stroke="#7a7a7a" stroke-width="1" />
<line x1="59.5" y1="750.58" x2="61.7" y2="750.58" stroke="#7a7a7a" stroke-width="1" />
<line x1="59.5" y1="733.55" x2="61.7" y2="733.55" stroke="#7a7a7a" stroke-width="1" />
<line x1="59.5" y1="716.52" x2="61.7" y2="716.52" stroke="#7a7a7a" stroke-width="1" />
<line x1="59.5" y1="699.5" x2="61.7" y2="699.5" stroke="#7a7a7a" stroke-width="1" />
<line x1="59.5" y1="682.48" x2="61.7" y2="682.48" stroke="#7a7a7a" stroke-width="1" />
<line x1="59.5" y1="665.45" x2="61.7" y2="665.45" stroke="#7a7a7a" stroke-width="1" />
<line x1="77.95" y1="793.6" x2="77.95" y2="791.4" stroke="#7a7a7a" stroke-width="1" />
<line x1="96.4" y1="793.6" x2="96.4" y2="791.4" stroke="#7a7a7a" stroke-width="1" />
<line x1="114.85" y1="793.6" x2="114.85" y2="791.4" stroke="#7a7a7a" stroke-width="1" />
<line x1="133.3" y1="793.6" x2="133.3" y2="791.4" stroke="#7a7a7a" stroke-width="1" />
<line x1="151.75" y1="793.6" x2="151.75" y2="791.4" stroke="#7a7a7a" stroke-width="1" />
<line x1="170.2" y1="793.6" x2="170.2" y2="791.4" stroke="#7a7a7a" stroke-width="1" />
<line x1="188.65" y1="793.6" x2="188.65" y2="791.4" stroke="#7a7a7a" stroke-width="1" />
<line x1="207.1" y1="793.6" x2="207.1" y2="791.4" stroke="#7a7a7a" stroke-width="1" />
<rect x="225.3" y="657.3" width="166.4" height="136.3" fill="none" stroke="#7a7a7a" stroke-width="1"/>
<line x1="225.3" y1="784.62" x2="227.5" y2="784.62" stroke="#7a7a7a" stroke-width="1" />
<line x1="225.3" y1="767.6" x2="227.5" y2="767.6" stroke="#7a7a7a" stroke-width="1" />
<line x1="225.3" y1="750.58" x2="227.5" y2="750.58" stroke="#7a7a7a" stroke-width="1" />
<line x1="225.3" y1="733.55" x2="227.5" y2="733.55" stroke="#7a7a7a" stroke-width="1" />
<line x1="225.3" y1="716.52" x2="227.5" y2="716.52" stroke="#7a7a7a" stroke-width="1" />
<line x1="225.3" y1="699.5" x2="227.5" y2="699.5" stroke="#7a7a7a" stroke-width="1" />
<line x1="225.3" y1="682.48" x2="227.5" y2="682.48" stroke="#7a7a7a" stroke-width="1" />
<line x1="225.3" y1="665.45" x2="227.5" y2="665.45" stroke="#7a7a7a" stroke-width="1" />
<line x1="243.75" y1="793.6" x2="243.75" y2="791.4" stroke="#7a7a7a" stroke-width="1" />
<line x1="262.2" y1="793.6" x2="262.2" y2="791.4" stroke="#7a7a7a" stroke-width="1" />
<line x1="280.65" y1="793.6" x2="280.65" y2="791.4" stroke="#7a7a7a" stroke-width="1" />
<line x1="299.1" y1="793.6" x2="299.1" y2="791.4" stroke="#7a7a7a" stroke-width="1" />
<line x1="317.55" y1="793.6" x2="317.55" y2="791.4" stroke="#7a7a7a" stroke-width="1" />
<line x1="336" y1="793.6" x2="336" y2="791.4" stroke="#7a7a7a" stroke-width="1" />
<line x1="354.45" y1="793.6" x2="354.45" y2="791.4" stroke="#7a7a7a" stroke-width="1" />
<line x1="372.9" y1="793.6" x2="372.9" y2="791.4" stroke="#7a7a7a" stroke-width="1" />
<text x="55.6" y="669.95" font-size="13.2" text-anchor="end" fill="#111"  stroke="#111" stroke-width="0.4">100</text>
<text x="55.6" y="704" font-size="13.2" text-anchor="end" fill="#111"  stroke="#111" stroke-width="0.4">0</text>
<text x="55.6" y="738.05" font-size="13.2" text-anchor="end" fill="#111"  stroke="#111" stroke-width="0.4">-100</text>
<text x="55.6" y="772.1" font-size="13.2" text-anchor="end" fill="#111"  stroke="#111" stroke-width="0.4">-200</text>
<text x="59.5" y="807.3" font-size="13.2" text-anchor="middle" fill="#111"  textLength="19.08" lengthAdjust="spacingAndGlyphs" stroke="#111" stroke-width="0.4">0.0</text>
<text x="96.4" y="807.3" font-size="13.2" text-anchor="middle" fill="#111"  textLength="19.08" lengthAdjust="spacingAndGlyphs" stroke="#111" stroke-width="0.4">0.1</text>
<text x="133.3" y="807.3" font-size="13.2" text-anchor="middle" fill="#111"  textLength="19.08" lengthAdjust="spacingAndGlyphs" stroke="#111" stroke-width="0.4">0.2</text>
<text x="170.2" y="807.3" font-size="13.2" text-anchor="middle" fill="#111"  textLength="19.08" lengthAdjust="spacingAndGlyphs" stroke="#111" stroke-width="0.4">0.3</text>
<text x="207.1" y="807.3" font-size="13.2" text-anchor="middle" fill="#111"  textLength="19.08" lengthAdjust="spacingAndGlyphs" stroke="#111" stroke-width="0.4">0.4</text>
<text x="231.5" y="807.3" font-size="13.2" text-anchor="middle" fill="#111"  textLength="19.08" lengthAdjust="spacingAndGlyphs" stroke="#111" stroke-width="0.4">0.0</text>
<text x="268.2" y="807.3" font-size="13.2" text-anchor="middle" fill="#111"  textLength="19.08" lengthAdjust="spacingAndGlyphs" stroke="#111" stroke-width="0.4">0.1</text>
<text x="304.9" y="807.3" font-size="13.2" text-anchor="middle" fill="#111"  textLength="19.08" lengthAdjust="spacingAndGlyphs" stroke="#111" stroke-width="0.4">0.2</text>
<text x="341.6" y="807.3" font-size="13.2" text-anchor="middle" fill="#111"  textLength="19.08" lengthAdjust="spacingAndGlyphs" stroke="#111" stroke-width="0.4">0.3</text>
<text x="378.3" y="807.3" font-size="13.2" text-anchor="middle" fill="#111"  textLength="19.08" lengthAdjust="spacingAndGlyphs" stroke="#111" stroke-width="0.4">0.4</text>
<text transform="translate(19.7,673.2) rotate(-90)" font-size="19" fill="#111" stroke="#111" stroke-width="0.3">z(&#197;)</text>
<text transform="translate(105.3,828.2) scale(1.155,1)" font-size="17.8" fill="#111" stroke="#111" stroke-width="0.3">Electron density profile (e/&#197;<tspan font-size="12.5" dy="-6.5">3</tspan><tspan dy="6.5">)</tspan></text>
<text x="222.2" y="534.3" font-size="13.6" text-anchor="end" fill="#111"  textLength="29.07" lengthAdjust="spacingAndGlyphs" stroke="#111" stroke-width="0.2">(c-1)</text>
<text x="386.5" y="534" font-size="13.6" text-anchor="end" fill="#111"  textLength="29.07" lengthAdjust="spacingAndGlyphs" stroke="#111" stroke-width="0.2">(c-2)</text>
<text x="222.9" y="669.5" font-size="13.6" text-anchor="end" fill="#111"  textLength="29.07" lengthAdjust="spacingAndGlyphs" stroke="#111" stroke-width="0.2">(c-3)</text>
<text x="387.9" y="669.5" font-size="13.6" text-anchor="end" fill="#111"  textLength="29.07" lengthAdjust="spacingAndGlyphs" stroke="#111" stroke-width="0.2">(c-4)</text>
<line x1="60.5" y1="531.7" x2="75.2" y2="531.7" stroke="#ff2020" stroke-width="1.4" />
<line x1="60.6" y1="544.5" x2="64.2" y2="544.5" stroke="#3cf03c" stroke-width="1.5" />
<line x1="67.8" y1="544.5" x2="71.3" y2="544.5" stroke="#3cf03c" stroke-width="1.5" />
<text x="77.3" y="534.3" font-size="9.8" text-anchor="start" fill="#111"  textLength="26.22" lengthAdjust="spacingAndGlyphs" stroke="#111" stroke-width="0.3">SOPC</text>
<text x="76.2" y="547.1" font-size="9.8" text-anchor="start" fill="#111"  textLength="120.53" lengthAdjust="spacingAndGlyphs" stroke="#111" stroke-width="0.3">SOPC +10 &#956;g/ml PDC-AuNRs</text>
<line x1="227.1" y1="529.1" x2="242.2" y2="529.1" stroke="#ff2020" stroke-width="1.4" />
<line x1="227.2" y1="541.8" x2="230.8" y2="541.8" stroke="#3cf03c" stroke-width="1.5" />
<line x1="234.4" y1="541.8" x2="237.9" y2="541.8" stroke="#3cf03c" stroke-width="1.5" />
<text x="243.9" y="531.7" font-size="9.8" text-anchor="start" fill="#111"  textLength="26.22" lengthAdjust="spacingAndGlyphs" stroke="#111" stroke-width="0.3">SOPC</text>
<text x="245.3" y="544.4" font-size="9.8" text-anchor="start" fill="#111"  textLength="119.54" lengthAdjust="spacingAndGlyphs" stroke="#111" stroke-width="0.3">SOPC +10 &#956;g/ml PSS-AuNRs</text>
<line x1="59.6" y1="666.1" x2="74.6" y2="666.1" stroke="#2020f0" stroke-width="1.4" />
<line x1="59.7" y1="678.2" x2="63.3" y2="678.2" stroke="#ff20ff" stroke-width="1.5" />
<line x1="66.9" y1="678.2" x2="70.4" y2="678.2" stroke="#ff20ff" stroke-width="1.5" />
<text x="77.3" y="668.7" font-size="9.8" text-anchor="start" fill="#111"  textLength="26.73" lengthAdjust="spacingAndGlyphs" stroke="#111" stroke-width="0.3">SOPG</text>
<text x="78.3" y="680.8" font-size="9.8" text-anchor="start" fill="#111"  textLength="121.02" lengthAdjust="spacingAndGlyphs" stroke="#111" stroke-width="0.3">SOPG +10 &#956;g/ml PDC-AuNRs</text>
<line x1="229.1" y1="666.1" x2="243.3" y2="666.1" stroke="#2020f0" stroke-width="1.4" />
<line x1="229.2" y1="678.2" x2="232.8" y2="678.2" stroke="#ff20ff" stroke-width="1.5" />
<line x1="236.4" y1="678.2" x2="239.9" y2="678.2" stroke="#ff20ff" stroke-width="1.5" />
<text x="245.9" y="668.7" font-size="9.8" text-anchor="start" fill="#111"  textLength="26.73" lengthAdjust="spacingAndGlyphs" stroke="#111" stroke-width="0.3">SOPG</text>
<text x="247.3" y="680.8" font-size="9.8" text-anchor="start" fill="#111"  textLength="120.03" lengthAdjust="spacingAndGlyphs" stroke="#111" stroke-width="0.3">SOPG +10 &#956;g/ml PSS-AuNRs</text>
<line x1="59.5" y1="563.9" x2="225.3" y2="564.8" stroke="#555" stroke-width="0.8" stroke-dasharray="2.6 2.2"/>
<line x1="225.3" y1="564.2" x2="391.7" y2="562.3" stroke="#555" stroke-width="0.8" stroke-dasharray="2.6 2.2"/>
<line x1="59.5" y1="699.6" x2="225.3" y2="699.6" stroke="#555" stroke-width="0.8" stroke-dasharray="2.6 2.2"/>
<line x1="225.3" y1="699.7" x2="391.7" y2="698.2" stroke="#555" stroke-width="0.8" stroke-dasharray="2.6 2.2"/>
<path d="M59.6 553.2 C59.83 553.75 60.27 555.72 61 556.5 C61.73 557.28 59.17 557.52 64 557.9 C68.83 558.28 80.67 558.48 90 558.8 C99.33 559.12 110 559.47 120 559.8 C130 560.13 142.5 560.52 150 560.8 C157.5 561.08 159.33 561.12 165 561.5 C170.67 561.88 177.67 562.52 184 563.1 C190.33 563.68 199.2 564.63 203 565 C206.8 565.37 207.87 564.97 206.8 565.3 C205.73 565.63 199.98 566.58 196.6 567 C193.22 567.42 188.7 567.45 186.5 567.8 C184.3 568.15 184.1 568.35 183.4 569.1 C182.7 569.85 182.5 570.48 182.3 572.3 C182.1 574.12 182.22 565.88 182.2 580 C182.18 594.12 182.2 644.17 182.2 657" fill="none" stroke="#ff2020" stroke-width="1.4" stroke-linejoin="round" stroke-linecap="round" />
<path d="M59.6 553.2 C59.83 553.75 60.27 555.72 61 556.5 C61.73 557.28 59.17 557.52 64 557.9 C68.83 558.28 80.67 558.48 90 558.8 C99.33 559.12 110 559.47 120 559.8 C130 560.13 142.5 560.52 150 560.8 C157.5 561.08 159.33 561.12 165 561.5 C170.67 561.88 177.67 562.55 184 563.1 C190.33 563.65 198.67 564.48 203 564.8 C207.33 565.12 210.63 564.63 210 565 C209.37 565.37 202.48 566.53 199.2 567 C195.92 567.47 192.1 567.35 190.3 567.8 C188.5 568.25 188.18 568.63 188.4 569.7 C188.62 570.77 189.92 572.62 191.6 574.2 C193.28 575.78 197.23 577.4 198.5 579.2 C199.77 581 199.12 582.87 199.2 585 C199.28 587.13 199.12 588.92 199 592 C198.88 595.08 199.08 599.82 198.5 603.5 C197.92 607.18 197.18 610.55 195.5 614.1 C193.82 617.65 190.48 621.53 188.4 624.8 C186.32 628.07 184.03 631.17 183 633.7 C181.97 636.23 182.33 636.12 182.2 640 C182.07 643.88 182.2 654.17 182.2 657" fill="none" stroke="#3cf03c" stroke-width="1.4" stroke-linejoin="round" stroke-linecap="round" stroke-dasharray="3.2 2.6"/>
<path d="M225.5 553.2 C225.92 553.92 226.42 556.53 228 557.5 C229.58 558.47 228 558.58 235 559 C242 559.42 255.83 559.58 270 560 C284.17 560.42 309.17 561.1 320 561.5 C330.83 561.9 329.02 562.02 335 562.4 C340.98 562.78 350.07 563.32 355.9 563.8 C361.73 564.28 367.22 565 370 565.3 C372.78 565.6 373.78 565.32 372.6 565.6 C371.42 565.88 366.38 566.53 362.9 567 C359.42 567.47 354.03 568 351.7 568.4 C349.37 568.8 349.47 568.88 348.9 569.4 C348.33 569.92 348.4 569.73 348.3 571.5 C348.2 573.27 348.3 565.75 348.3 580 C348.3 594.25 348.3 644.17 348.3 657" fill="none" stroke="#ff2020" stroke-width="1.4" stroke-linejoin="round" stroke-linecap="round" />
<path d="M225.5 553.2 C225.92 553.92 226.42 556.53 228 557.5 C229.58 558.47 228 558.58 235 559 C242 559.42 255.83 559.58 270 560 C284.17 560.42 309.17 561.1 320 561.5 C330.83 561.9 329.02 562.02 335 562.4 C340.98 562.78 349.73 563.37 355.9 563.8 C362.07 564.23 368.1 564.73 372 565 C375.9 565.27 380.13 564.97 379.3 565.4 C378.47 565.83 369.52 566.7 367 567.6 C364.48 568.5 364.77 569.4 364.2 570.8 C363.63 572.2 363.7 573.97 363.6 576 C363.5 578.03 364.23 579.63 363.6 583 C362.97 586.37 361.37 592.42 359.8 596.2 C358.23 599.98 355.93 602.53 354.2 605.7 C352.47 608.87 350.37 612.65 349.4 615.2 C348.43 617.75 348.58 614.03 348.4 621 C348.22 627.97 348.32 651 348.3 657" fill="none" stroke="#3cf03c" stroke-width="1.4" stroke-linejoin="round" stroke-linecap="round" stroke-dasharray="3.2 2.6"/>
<path d="M59.8 690 C60.17 690.58 60.3 692.73 62 693.5 C63.7 694.27 62 694.22 70 694.6 C78 694.98 96.67 695.35 110 695.8 C123.33 696.25 140 696.9 150 697.3 C160 697.7 163.12 697.82 170 698.2 C176.88 698.58 185.13 699.1 191.3 699.6 C197.47 700.1 203.82 700.88 207 701.2 C210.18 701.52 211.83 701.15 210.4 701.5 C208.97 701.85 202.53 702.77 198.4 703.3 C194.27 703.83 188.2 704.3 185.6 704.7 C183 705.1 183.37 705.17 182.8 705.7 C182.23 706.23 182.3 706.35 182.2 707.9 C182.1 709.45 182.2 700.82 182.2 715 C182.2 729.18 182.2 780 182.2 793" fill="none" stroke="#2020f0" stroke-width="1.4" stroke-linejoin="round" stroke-linecap="round" />
<path d="M59.8 690 C60.17 690.58 60.3 692.73 62 693.5 C63.7 694.27 62 694.22 70 694.6 C78 694.98 96.67 695.35 110 695.8 C123.33 696.25 140 696.9 150 697.3 C160 697.7 163.12 697.82 170 698.2 C176.88 698.58 184.63 699.1 191.3 699.6 C197.97 700.1 205.28 700.83 210 701.2 C214.72 701.57 219.88 701.45 219.6 701.8 C219.32 702.15 211.48 702.88 208.3 703.3 C205.12 703.72 202.27 703.78 200.5 704.3 C198.73 704.82 198.2 705.12 197.7 706.4 C197.2 707.68 197.53 707.53 197.5 712 C197.47 716.47 198.87 727.9 197.5 733.2 C196.13 738.5 191.57 740.25 189.3 743.8 C187.03 747.35 185.05 751.53 183.9 754.5 C182.75 757.47 182.68 755.18 182.4 761.6 C182.12 768.02 182.23 787.77 182.2 793" fill="none" stroke="#ff20ff" stroke-width="1.4" stroke-linejoin="round" stroke-linecap="round" stroke-dasharray="3.2 2.6"/>
<path d="M225.5 690 C225.92 690.55 219.25 692.33 228 693.3 C236.75 694.27 260 694.83 278 695.8 C296 696.77 322.78 698.32 336 699.1 C349.22 699.88 349.3 700.05 357.3 700.5 C365.3 700.95 378.92 701.57 384 701.8 C389.08 702.03 389.88 701.72 387.8 701.9 C385.72 702.08 376.58 702.57 371.5 702.9 C366.42 703.23 360.85 703.55 357.3 703.9 C353.75 704.25 351.67 704.58 350.2 705 C348.73 705.42 348.82 705.57 348.5 706.4 C348.18 707.23 348.33 695.57 348.3 710 C348.27 724.43 348.3 779.17 348.3 793" fill="none" stroke="#2020f0" stroke-width="1.4" stroke-linejoin="round" stroke-linecap="round" />
<path d="M225.5 690 C225.92 690.55 219.25 692.33 228 693.3 C236.75 694.27 260 694.83 278 695.8 C296 696.77 322.78 698.32 336 699.1 C349.22 699.88 349.3 700.05 357.3 700.5 C365.3 700.95 378.92 701.57 384 701.8 C389.08 702.03 389.88 701.72 387.8 701.9 C385.72 702.08 376.58 702.57 371.5 702.9 C366.42 703.23 360.85 703.55 357.3 703.9 C353.75 704.25 351.67 704.58 350.2 705 C348.73 705.42 348.82 705.57 348.5 706.4 C348.18 707.23 348.33 695.57 348.3 710 C348.27 724.43 348.3 779.17 348.3 793" fill="none" stroke="#ff20ff" stroke-width="1.4" stroke-linejoin="round" stroke-linecap="round" stroke-dasharray="3.2 2.6"/>
<g transform="translate(64.3,566.6) rotate(0) scale(1)">
<path d="M1.2 -2.0 C2.9 -3.0 3.0 -4.6 3.4 -6.0 C3.7 -7.0 4.0 -7.4 4.4 -7.9" fill="none" stroke="#f6b000" stroke-width="2.0" stroke-linecap="round"/>
<path d="M4.2 -7.6 C3.5 -8.4 3.3 -9.3 3.6 -10.3 M4.4 -7.9 C5.2 -8.3 5.9 -8.9 6.6 -9.9" fill="none" stroke="#f7b400" stroke-width="1.3" stroke-linecap="round"/>
<ellipse cx="0" cy="0" rx="2.3" ry="1.05" transform="rotate(-52)" fill="#0b3566"/>
</g>
<g transform="translate(71.65,566.6) rotate(0) scale(1)">
<path d="M1.2 -2.0 C2.9 -3.0 3.0 -4.6 3.4 -6.0 C3.7 -7.0 4.0 -7.4 4.4 -7.9" fill="none" stroke="#f6b000" stroke-width="2.0" stroke-linecap="round"/>
<path d="M4.2 -7.6 C3.5 -8.4 3.3 -9.3 3.6 -10.3 M4.4 -7.9 C5.2 -8.3 5.9 -8.9 6.6 -9.9" fill="none" stroke="#f7b400" stroke-width="1.3" stroke-linecap="round"/>
<ellipse cx="0" cy="0" rx="2.3" ry="1.05" transform="rotate(-52)" fill="#0b3566"/>
</g>
<g transform="translate(79,566.6) rotate(0) scale(1)">
<path d="M1.2 -2.0 C2.9 -3.0 3.0 -4.6 3.4 -6.0 C3.7 -7.0 4.0 -7.4 4.4 -7.9" fill="none" stroke="#f6b000" stroke-width="2.0" stroke-linecap="round"/>
<path d="M4.2 -7.6 C3.5 -8.4 3.3 -9.3 3.6 -10.3 M4.4 -7.9 C5.2 -8.3 5.9 -8.9 6.6 -9.9" fill="none" stroke="#f7b400" stroke-width="1.3" stroke-linecap="round"/>
<ellipse cx="0" cy="0" rx="2.3" ry="1.05" transform="rotate(-52)" fill="#0b3566"/>
</g>
<g transform="translate(86.35,566.6) rotate(0) scale(1)">
<path d="M1.2 -2.0 C2.9 -3.0 3.0 -4.6 3.4 -6.0 C3.7 -7.0 4.0 -7.4 4.4 -7.9" fill="none" stroke="#f6b000" stroke-width="2.0" stroke-linecap="round"/>
<path d="M4.2 -7.6 C3.5 -8.4 3.3 -9.3 3.6 -10.3 M4.4 -7.9 C5.2 -8.3 5.9 -8.9 6.6 -9.9" fill="none" stroke="#f7b400" stroke-width="1.3" stroke-linecap="round"/>
<ellipse cx="0" cy="0" rx="2.3" ry="1.05" transform="rotate(-52)" fill="#0b3566"/>
</g>
<g transform="translate(93.7,566.6) rotate(0) scale(1)">
<path d="M1.2 -2.0 C2.9 -3.0 3.0 -4.6 3.4 -6.0 C3.7 -7.0 4.0 -7.4 4.4 -7.9" fill="none" stroke="#f6b000" stroke-width="2.0" stroke-linecap="round"/>
<path d="M4.2 -7.6 C3.5 -8.4 3.3 -9.3 3.6 -10.3 M4.4 -7.9 C5.2 -8.3 5.9 -8.9 6.6 -9.9" fill="none" stroke="#f7b400" stroke-width="1.3" stroke-linecap="round"/>
<ellipse cx="0" cy="0" rx="2.3" ry="1.05" transform="rotate(-52)" fill="#0b3566"/>
</g>
<g transform="translate(101.05,566.6) rotate(0) scale(1)">
<path d="M1.2 -2.0 C2.9 -3.0 3.0 -4.6 3.4 -6.0 C3.7 -7.0 4.0 -7.4 4.4 -7.9" fill="none" stroke="#f6b000" stroke-width="2.0" stroke-linecap="round"/>
<path d="M4.2 -7.6 C3.5 -8.4 3.3 -9.3 3.6 -10.3 M4.4 -7.9 C5.2 -8.3 5.9 -8.9 6.6 -9.9" fill="none" stroke="#f7b400" stroke-width="1.3" stroke-linecap="round"/>
<ellipse cx="0" cy="0" rx="2.3" ry="1.05" transform="rotate(-52)" fill="#0b3566"/>
</g>
<g transform="translate(108.4,566.6) rotate(0) scale(1)">
<path d="M1.2 -2.0 C2.9 -3.0 3.0 -4.6 3.4 -6.0 C3.7 -7.0 4.0 -7.4 4.4 -7.9" fill="none" stroke="#f6b000" stroke-width="2.0" stroke-linecap="round"/>
<path d="M4.2 -7.6 C3.5 -8.4 3.3 -9.3 3.6 -10.3 M4.4 -7.9 C5.2 -8.3 5.9 -8.9 6.6 -9.9" fill="none" stroke="#f7b400" stroke-width="1.3" stroke-linecap="round"/>
<ellipse cx="0" cy="0" rx="2.3" ry="1.05" transform="rotate(-52)" fill="#0b3566"/>
</g>
<g transform="translate(115.75,566.6) rotate(0) scale(1)">
<path d="M1.2 -2.0 C2.9 -3.0 3.0 -4.6 3.4 -6.0 C3.7 -7.0 4.0 -7.4 4.4 -7.9" fill="none" stroke="#f6b000" stroke-width="2.0" stroke-linecap="round"/>
<path d="M4.2 -7.6 C3.5 -8.4 3.3 -9.3 3.6 -10.3 M4.4 -7.9 C5.2 -8.3 5.9 -8.9 6.6 -9.9" fill="none" stroke="#f7b400" stroke-width="1.3" stroke-linecap="round"/>
<ellipse cx="0" cy="0" rx="2.3" ry="1.05" transform="rotate(-52)" fill="#0b3566"/>
</g>
<g transform="translate(123.1,566.6) rotate(0) scale(1)">
<path d="M1.2 -2.0 C2.9 -3.0 3.0 -4.6 3.4 -6.0 C3.7 -7.0 4.0 -7.4 4.4 -7.9" fill="none" stroke="#f6b000" stroke-width="2.0" stroke-linecap="round"/>
<path d="M4.2 -7.6 C3.5 -8.4 3.3 -9.3 3.6 -10.3 M4.4 -7.9 C5.2 -8.3 5.9 -8.9 6.6 -9.9" fill="none" stroke="#f7b400" stroke-width="1.3" stroke-linecap="round"/>
<ellipse cx="0" cy="0" rx="2.3" ry="1.05" transform="rotate(-52)" fill="#0b3566"/>
</g>
<g transform="translate(130.45,566.6) rotate(0) scale(1)">
<path d="M1.2 -2.0 C2.9 -3.0 3.0 -4.6 3.4 -6.0 C3.7 -7.0 4.0 -7.4 4.4 -7.9" fill="none" stroke="#f6b000" stroke-width="2.0" stroke-linecap="round"/>
<path d="M4.2 -7.6 C3.5 -8.4 3.3 -9.3 3.6 -10.3 M4.4 -7.9 C5.2 -8.3 5.9 -8.9 6.6 -9.9" fill="none" stroke="#f7b400" stroke-width="1.3" stroke-linecap="round"/>
<ellipse cx="0" cy="0" rx="2.3" ry="1.05" transform="rotate(-52)" fill="#0b3566"/>
</g>
<g transform="translate(137.8,566.6) rotate(0) scale(1)">
<path d="M1.2 -2.0 C2.9 -3.0 3.0 -4.6 3.4 -6.0 C3.7 -7.0 4.0 -7.4 4.4 -7.9" fill="none" stroke="#f6b000" stroke-width="2.0" stroke-linecap="round"/>
<path d="M4.2 -7.6 C3.5 -8.4 3.3 -9.3 3.6 -10.3 M4.4 -7.9 C5.2 -8.3 5.9 -8.9 6.6 -9.9" fill="none" stroke="#f7b400" stroke-width="1.3" stroke-linecap="round"/>
<ellipse cx="0" cy="0" rx="2.3" ry="1.05" transform="rotate(-52)" fill="#0b3566"/>
</g>
<g transform="translate(145.15,566.6) rotate(0) scale(1)">
<path d="M1.2 -2.0 C2.9 -3.0 3.0 -4.6 3.4 -6.0 C3.7 -7.0 4.0 -7.4 4.4 -7.9" fill="none" stroke="#f6b000" stroke-width="2.0" stroke-linecap="round"/>
<path d="M4.2 -7.6 C3.5 -8.4 3.3 -9.3 3.6 -10.3 M4.4 -7.9 C5.2 -8.3 5.9 -8.9 6.6 -9.9" fill="none" stroke="#f7b400" stroke-width="1.3" stroke-linecap="round"/>
<ellipse cx="0" cy="0" rx="2.3" ry="1.05" transform="rotate(-52)" fill="#0b3566"/>
</g>
<g transform="translate(152.5,566.6) rotate(0) scale(1)">
<path d="M1.2 -2.0 C2.9 -3.0 3.0 -4.6 3.4 -6.0 C3.7 -7.0 4.0 -7.4 4.4 -7.9" fill="none" stroke="#f6b000" stroke-width="2.0" stroke-linecap="round"/>
<path d="M4.2 -7.6 C3.5 -8.4 3.3 -9.3 3.6 -10.3 M4.4 -7.9 C5.2 -8.3 5.9 -8.9 6.6 -9.9" fill="none" stroke="#f7b400" stroke-width="1.3" stroke-linecap="round"/>
<ellipse cx="0" cy="0" rx="2.3" ry="1.05" transform="rotate(-52)" fill="#0b3566"/>
</g>
<ellipse cx="100.9" cy="588.4" rx="19.2" ry="19.2" fill="#ff1212"/>
<ellipse cx="100.9" cy="588.4" rx="17.1" ry="17.1" fill="#1f80f2"/>
<ellipse cx="100.9" cy="588.4" rx="14.9" ry="14.9" fill="#f07c1c"/>
<ellipse cx="100.9" cy="588.4" rx="12.8" ry="12.8" fill="#f5b71b"/>
<circle cx="102.3" cy="569.8" r="0.85" fill="#1a1a1a"/>
<circle cx="99.7" cy="574.9" r="0.85" fill="#1a1a1a"/>
<circle cx="115.1" cy="584.5" r="0.85" fill="#1a1a1a"/>
<circle cx="119.2" cy="588.7" r="0.85" fill="#1a1a1a"/>
<circle cx="82.8" cy="588.7" r="0.85" fill="#1a1a1a"/>
<circle cx="89" cy="596.2" r="0.85" fill="#1a1a1a"/>
<circle cx="108.2" cy="601" r="0.85" fill="#1a1a1a"/>
<circle cx="93.8" cy="605.2" r="0.85" fill="#1a1a1a"/>
<text x="101.3" y="621.8" font-size="10.4" text-anchor="middle" fill="#111"  textLength="56.61" lengthAdjust="spacingAndGlyphs" stroke="#111" stroke-width="0.3">PDC-AuNRs</text>
<ellipse cx="281.5" cy="578" rx="18.3" ry="17.4" fill="#1f80f2"/>
<ellipse cx="281.5" cy="578" rx="16.1" ry="15.2" fill="#f07c1c"/>
<ellipse cx="281.5" cy="578" rx="14" ry="13.1" fill="#f5b71b"/>
<circle cx="273.3" cy="564.5" r="0.85" fill="#1a1a1a"/>
<circle cx="295.6" cy="573" r="0.85" fill="#1a1a1a"/>
<circle cx="267.4" cy="584.7" r="0.85" fill="#1a1a1a"/>
<circle cx="288.7" cy="590" r="0.85" fill="#1a1a1a"/>
<circle cx="281.3" cy="592.3" r="0.8" fill="#fff"/>
<g transform="translate(230.5,566.2) rotate(0) scale(1)">
<path d="M1.2 -2.0 C2.9 -3.0 3.0 -4.6 3.4 -6.0 C3.7 -7.0 4.0 -7.4 4.4 -7.9" fill="none" stroke="#f6b000" stroke-width="2.0" stroke-linecap="round"/>
<path d="M4.2 -7.6 C3.5 -8.4 3.3 -9.3 3.6 -10.3 M4.4 -7.9 C5.2 -8.3 5.9 -8.9 6.6 -9.9" fill="none" stroke="#f7b400" stroke-width="1.3" stroke-linecap="round"/>
<ellipse cx="0" cy="0" rx="2.3" ry="1.05" transform="rotate(-52)" fill="#0b3566"/>
</g>
<g transform="translate(238,566.2) rotate(0) scale(1)">
<path d="M1.2 -2.0 C2.9 -3.0 3.0 -4.6 3.4 -6.0 C3.7 -7.0 4.0 -7.4 4.4 -7.9" fill="none" stroke="#f6b000" stroke-width="2.0" stroke-linecap="round"/>
<path d="M4.2 -7.6 C3.5 -8.4 3.3 -9.3 3.6 -10.3 M4.4 -7.9 C5.2 -8.3 5.9 -8.9 6.6 -9.9" fill="none" stroke="#f7b400" stroke-width="1.3" stroke-linecap="round"/>
<ellipse cx="0" cy="0" rx="2.3" ry="1.05" transform="rotate(-52)" fill="#0b3566"/>
</g>
<g transform="translate(245.5,566.3) rotate(0) scale(1)">
<path d="M1.2 -2.0 C2.9 -3.0 3.0 -4.6 3.4 -6.0 C3.7 -7.0 4.0 -7.4 4.4 -7.9" fill="none" stroke="#f6b000" stroke-width="2.0" stroke-linecap="round"/>
<path d="M4.2 -7.6 C3.5 -8.4 3.3 -9.3 3.6 -10.3 M4.4 -7.9 C5.2 -8.3 5.9 -8.9 6.6 -9.9" fill="none" stroke="#f7b400" stroke-width="1.3" stroke-linecap="round"/>
<ellipse cx="0" cy="0" rx="2.3" ry="1.05" transform="rotate(-52)" fill="#0b3566"/>
</g>
<g transform="translate(253,566.4) rotate(0) scale(1)">
<path d="M1.2 -2.0 C2.9 -3.0 3.0 -4.6 3.4 -6.0 C3.7 -7.0 4.0 -7.4 4.4 -7.9" fill="none" stroke="#f6b000" stroke-width="2.0" stroke-linecap="round"/>
<path d="M4.2 -7.6 C3.5 -8.4 3.3 -9.3 3.6 -10.3 M4.4 -7.9 C5.2 -8.3 5.9 -8.9 6.6 -9.9" fill="none" stroke="#f7b400" stroke-width="1.3" stroke-linecap="round"/>
<ellipse cx="0" cy="0" rx="2.3" ry="1.05" transform="rotate(-52)" fill="#0b3566"/>
</g>
<g transform="translate(261.8,566.2) rotate(0) scale(1)">
<path d="M1.2 -2.0 C2.9 -3.0 3.0 -4.6 3.4 -6.0 C3.7 -7.0 4.0 -7.4 4.4 -7.9" fill="none" stroke="#f6b000" stroke-width="2.0" stroke-linecap="round"/>
<path d="M4.2 -7.6 C3.5 -8.4 3.3 -9.3 3.6 -10.3 M4.4 -7.9 C5.2 -8.3 5.9 -8.9 6.6 -9.9" fill="none" stroke="#f7b400" stroke-width="1.3" stroke-linecap="round"/>
<ellipse cx="0" cy="0" rx="2.3" ry="1.05" transform="rotate(-52)" fill="#0b3566"/>
</g>
<g transform="translate(269.6,563.6) rotate(0) scale(1)">
<path d="M1.2 -2.0 C2.9 -3.0 3.0 -4.6 3.4 -6.0 C3.7 -7.0 4.0 -7.4 4.4 -7.9" fill="none" stroke="#f6b000" stroke-width="2.0" stroke-linecap="round"/>
<path d="M4.2 -7.6 C3.5 -8.4 3.3 -9.3 3.6 -10.3 M4.4 -7.9 C5.2 -8.3 5.9 -8.9 6.6 -9.9" fill="none" stroke="#f7b400" stroke-width="1.3" stroke-linecap="round"/>
<ellipse cx="0" cy="0" rx="2.3" ry="1.05" transform="rotate(-52)" fill="#0b3566"/>
</g>
<g transform="translate(277.3,560.5) rotate(0) scale(1)">
<path d="M1.2 -2.0 C2.9 -3.0 3.0 -4.6 3.4 -6.0 C3.7 -7.0 4.0 -7.4 4.4 -7.9" fill="none" stroke="#f6b000" stroke-width="2.0" stroke-linecap="round"/>
<path d="M4.2 -7.6 C3.5 -8.4 3.3 -9.3 3.6 -10.3 M4.4 -7.9 C5.2 -8.3 5.9 -8.9 6.6 -9.9" fill="none" stroke="#f7b400" stroke-width="1.3" stroke-linecap="round"/>
<ellipse cx="0" cy="0" rx="2.3" ry="1.05" transform="rotate(-52)" fill="#0b3566"/>
</g>
<g transform="translate(284,559.8) rotate(0) scale(1)">
<path d="M1.2 -2.0 C2.9 -3.0 3.0 -4.6 3.4 -6.0 C3.7 -7.0 4.0 -7.4 4.4 -7.9" fill="none" stroke="#f6b000" stroke-width="2.0" stroke-linecap="round"/>
<path d="M4.2 -7.6 C3.5 -8.4 3.3 -9.3 3.6 -10.3 M4.4 -7.9 C5.2 -8.3 5.9 -8.9 6.6 -9.9" fill="none" stroke="#f7b400" stroke-width="1.3" stroke-linecap="round"/>
<ellipse cx="0" cy="0" rx="2.3" ry="1.05" transform="rotate(-52)" fill="#0b3566"/>
</g>
<g transform="translate(290,561) rotate(0) scale(1)">
<path d="M1.2 -2.0 C2.9 -3.0 3.0 -4.6 3.4 -6.0 C3.7 -7.0 4.0 -7.4 4.4 -7.9" fill="none" stroke="#f6b000" stroke-width="2.0" stroke-linecap="round"/>
<path d="M4.2 -7.6 C3.5 -8.4 3.3 -9.3 3.6 -10.3 M4.4 -7.9 C5.2 -8.3 5.9 -8.9 6.6 -9.9" fill="none" stroke="#f7b400" stroke-width="1.3" stroke-linecap="round"/>
<ellipse cx="0" cy="0" rx="2.3" ry="1.05" transform="rotate(-52)" fill="#0b3566"/>
</g>
<g transform="translate(295.8,562.4) rotate(0) scale(1)">
<path d="M1.2 -2.0 C2.9 -3.0 3.0 -4.6 3.4 -6.0 C3.7 -7.0 4.0 -7.4 4.4 -7.9" fill="none" stroke="#f6b000" stroke-width="2.0" stroke-linecap="round"/>
<path d="M4.2 -7.6 C3.5 -8.4 3.3 -9.3 3.6 -10.3 M4.4 -7.9 C5.2 -8.3 5.9 -8.9 6.6 -9.9" fill="none" stroke="#f7b400" stroke-width="1.3" stroke-linecap="round"/>
<ellipse cx="0" cy="0" rx="2.3" ry="1.05" transform="rotate(-52)" fill="#0b3566"/>
</g>
<g transform="translate(300,566.6) rotate(0) scale(1)">
<path d="M1.2 -2.0 C2.9 -3.0 3.0 -4.6 3.4 -6.0 C3.7 -7.0 4.0 -7.4 4.4 -7.9" fill="none" stroke="#f6b000" stroke-width="2.0" stroke-linecap="round"/>
<path d="M4.2 -7.6 C3.5 -8.4 3.3 -9.3 3.6 -10.3 M4.4 -7.9 C5.2 -8.3 5.9 -8.9 6.6 -9.9" fill="none" stroke="#f7b400" stroke-width="1.3" stroke-linecap="round"/>
<ellipse cx="0" cy="0" rx="2.3" ry="1.05" transform="rotate(-52)" fill="#0b3566"/>
</g>
<g transform="translate(306.3,567.2) rotate(0) scale(1)">
<path d="M1.2 -2.0 C2.9 -3.0 3.0 -4.6 3.4 -6.0 C3.7 -7.0 4.0 -7.4 4.4 -7.9" fill="none" stroke="#f6b000" stroke-width="2.0" stroke-linecap="round"/>
<path d="M4.2 -7.6 C3.5 -8.4 3.3 -9.3 3.6 -10.3 M4.4 -7.9 C5.2 -8.3 5.9 -8.9 6.6 -9.9" fill="none" stroke="#f7b400" stroke-width="1.3" stroke-linecap="round"/>
<ellipse cx="0" cy="0" rx="2.3" ry="1.05" transform="rotate(-52)" fill="#0b3566"/>
</g>
<g transform="translate(313.6,567.3) rotate(0) scale(1)">
<path d="M1.2 -2.0 C2.9 -3.0 3.0 -4.6 3.4 -6.0 C3.7 -7.0 4.0 -7.4 4.4 -7.9" fill="none" stroke="#f6b000" stroke-width="2.0" stroke-linecap="round"/>
<path d="M4.2 -7.6 C3.5 -8.4 3.3 -9.3 3.6 -10.3 M4.4 -7.9 C5.2 -8.3 5.9 -8.9 6.6 -9.9" fill="none" stroke="#f7b400" stroke-width="1.3" stroke-linecap="round"/>
<ellipse cx="0" cy="0" rx="2.3" ry="1.05" transform="rotate(-52)" fill="#0b3566"/>
</g>
<g transform="translate(320.6,567.5) rotate(0) scale(1)">
<path d="M1.2 -2.0 C2.9 -3.0 3.0 -4.6 3.4 -6.0 C3.7 -7.0 4.0 -7.4 4.4 -7.9" fill="none" stroke="#f6b000" stroke-width="2.0" stroke-linecap="round"/>
<path d="M4.2 -7.6 C3.5 -8.4 3.3 -9.3 3.6 -10.3 M4.4 -7.9 C5.2 -8.3 5.9 -8.9 6.6 -9.9" fill="none" stroke="#f7b400" stroke-width="1.3" stroke-linecap="round"/>
<ellipse cx="0" cy="0" rx="2.3" ry="1.05" transform="rotate(-52)" fill="#0b3566"/>
</g>
<text x="286.4" y="609.5" font-size="10.4" text-anchor="middle" fill="#111"  textLength="55.5" lengthAdjust="spacingAndGlyphs" stroke="#111" stroke-width="0.3">PSS-AuNRs</text>
<path d="M280 611.3 q1 -0.8 2 0 t2 0 t2 0 t2 0 t2 0 t2 0 t2 0 t2 0 t2 0 t2 0 t2 0 t2 0 t2 0 t2 0 t2 0 t2 0 t1.5 0" fill="none" stroke="#e03030" stroke-width="0.8"/>
<g transform="translate(70.5,701) rotate(0) scale(1)">
<path d="M1.2 -2.0 C2.9 -3.0 3.0 -4.6 3.4 -6.0 C3.7 -7.0 4.0 -7.4 4.4 -7.9" fill="none" stroke="#f6b000" stroke-width="2.0" stroke-linecap="round"/>
<path d="M4.2 -7.6 C3.5 -8.4 3.3 -9.3 3.6 -10.3 M4.4 -7.9 C5.2 -8.3 5.9 -8.9 6.6 -9.9" fill="none" stroke="#f7b400" stroke-width="1.3" stroke-linecap="round"/>
<ellipse cx="0" cy="0" rx="2.3" ry="1.05" transform="rotate(-52)" fill="#1a4d12"/>
</g>
<g transform="translate(79.2,701.2) rotate(0) scale(1)">
<path d="M1.2 -2.0 C2.9 -3.0 3.0 -4.6 3.4 -6.0 C3.7 -7.0 4.0 -7.4 4.4 -7.9" fill="none" stroke="#f6b000" stroke-width="2.0" stroke-linecap="round"/>
<path d="M4.2 -7.6 C3.5 -8.4 3.3 -9.3 3.6 -10.3 M4.4 -7.9 C5.2 -8.3 5.9 -8.9 6.6 -9.9" fill="none" stroke="#f7b400" stroke-width="1.3" stroke-linecap="round"/>
<ellipse cx="0" cy="0" rx="2.3" ry="1.05" transform="rotate(-52)" fill="#1a4d12"/>
</g>
<g transform="translate(87.5,701.6) rotate(0) scale(1)">
<path d="M1.2 -2.0 C2.9 -3.0 3.0 -4.6 3.4 -6.0 C3.7 -7.0 4.0 -7.4 4.4 -7.9" fill="none" stroke="#f6b000" stroke-width="2.0" stroke-linecap="round"/>
<path d="M4.2 -7.6 C3.5 -8.4 3.3 -9.3 3.6 -10.3 M4.4 -7.9 C5.2 -8.3 5.9 -8.9 6.6 -9.9" fill="none" stroke="#f7b400" stroke-width="1.3" stroke-linecap="round"/>
<ellipse cx="0" cy="0" rx="2.3" ry="1.05" transform="rotate(-52)" fill="#1a4d12"/>
</g>
<g transform="translate(96.4,698.6) rotate(0) scale(1)">
<path d="M1.2 -2.0 C2.9 -3.0 3.0 -4.6 3.4 -6.0 C3.7 -7.0 4.0 -7.4 4.4 -7.9" fill="none" stroke="#f6b000" stroke-width="2.0" stroke-linecap="round"/>
<path d="M4.2 -7.6 C3.5 -8.4 3.3 -9.3 3.6 -10.3 M4.4 -7.9 C5.2 -8.3 5.9 -8.9 6.6 -9.9" fill="none" stroke="#f7b400" stroke-width="1.3" stroke-linecap="round"/>
<ellipse cx="0" cy="0" rx="2.3" ry="1.05" transform="rotate(-52)" fill="#1a4d12"/>
</g>
<g transform="translate(103.4,697.8) rotate(0) scale(1)">
<path d="M1.2 -2.0 C2.9 -3.0 3.0 -4.6 3.4 -6.0 C3.7 -7.0 4.0 -7.4 4.4 -7.9" fill="none" stroke="#f6b000" stroke-width="2.0" stroke-linecap="round"/>
<path d="M4.2 -7.6 C3.5 -8.4 3.3 -9.3 3.6 -10.3 M4.4 -7.9 C5.2 -8.3 5.9 -8.9 6.6 -9.9" fill="none" stroke="#f7b400" stroke-width="1.3" stroke-linecap="round"/>
<ellipse cx="0" cy="0" rx="2.3" ry="1.05" transform="rotate(-52)" fill="#1a4d12"/>
</g>
<g transform="translate(109.7,697.8) rotate(0) scale(1)">
<path d="M1.2 -2.0 C2.9 -3.0 3.0 -4.6 3.4 -6.0 C3.7 -7.0 4.0 -7.4 4.4 -7.9" fill="none" stroke="#f6b000" stroke-width="2.0" stroke-linecap="round"/>
<path d="M4.2 -7.6 C3.5 -8.4 3.3 -9.3 3.6 -10.3 M4.4 -7.9 C5.2 -8.3 5.9 -8.9 6.6 -9.9" fill="none" stroke="#f7b400" stroke-width="1.3" stroke-linecap="round"/>
<ellipse cx="0" cy="0" rx="2.3" ry="1.05" transform="rotate(-52)" fill="#1a4d12"/>
</g>
<g transform="translate(115.4,699.7) rotate(0) scale(1)">
<path d="M1.2 -2.0 C2.9 -3.0 3.0 -4.6 3.4 -6.0 C3.7 -7.0 4.0 -7.4 4.4 -7.9" fill="none" stroke="#f6b000" stroke-width="2.0" stroke-linecap="round"/>
<path d="M4.2 -7.6 C3.5 -8.4 3.3 -9.3 3.6 -10.3 M4.4 -7.9 C5.2 -8.3 5.9 -8.9 6.6 -9.9" fill="none" stroke="#f7b400" stroke-width="1.3" stroke-linecap="round"/>
<ellipse cx="0" cy="0" rx="2.3" ry="1.05" transform="rotate(-52)" fill="#1a4d12"/>
</g>
<g transform="translate(121.1,701) rotate(0) scale(1)">
<path d="M1.2 -2.0 C2.9 -3.0 3.0 -4.6 3.4 -6.0 C3.7 -7.0 4.0 -7.4 4.4 -7.9" fill="none" stroke="#f6b000" stroke-width="2.0" stroke-linecap="round"/>
<path d="M4.2 -7.6 C3.5 -8.4 3.3 -9.3 3.6 -10.3 M4.4 -7.9 C5.2 -8.3 5.9 -8.9 6.6 -9.9" fill="none" stroke="#f7b400" stroke-width="1.3" stroke-linecap="round"/>
<ellipse cx="0" cy="0" rx="2.3" ry="1.05" transform="rotate(-52)" fill="#1a4d12"/>
</g>
<g transform="translate(126.8,702.3) rotate(0) scale(1)">
<path d="M1.2 -2.0 C2.9 -3.0 3.0 -4.6 3.4 -6.0 C3.7 -7.0 4.0 -7.4 4.4 -7.9" fill="none" stroke="#f6b000" stroke-width="2.0" stroke-linecap="round"/>
<path d="M4.2 -7.6 C3.5 -8.4 3.3 -9.3 3.6 -10.3 M4.4 -7.9 C5.2 -8.3 5.9 -8.9 6.6 -9.9" fill="none" stroke="#f7b400" stroke-width="1.3" stroke-linecap="round"/>
<ellipse cx="0" cy="0" rx="2.3" ry="1.05" transform="rotate(-52)" fill="#1a4d12"/>
</g>
<g transform="translate(132.5,702.9) rotate(0) scale(1)">
<path d="M1.2 -2.0 C2.9 -3.0 3.0 -4.6 3.4 -6.0 C3.7 -7.0 4.0 -7.4 4.4 -7.9" fill="none" stroke="#f6b000" stroke-width="2.0" stroke-linecap="round"/>
<path d="M4.2 -7.6 C3.5 -8.4 3.3 -9.3 3.6 -10.3 M4.4 -7.9 C5.2 -8.3 5.9 -8.9 6.6 -9.9" fill="none" stroke="#f7b400" stroke-width="1.3" stroke-linecap="round"/>
<ellipse cx="0" cy="0" rx="2.3" ry="1.05" transform="rotate(-52)" fill="#1a4d12"/>
</g>
<g transform="translate(138.3,703) rotate(0) scale(1)">
<path d="M1.2 -2.0 C2.9 -3.0 3.0 -4.6 3.4 -6.0 C3.7 -7.0 4.0 -7.4 4.4 -7.9" fill="none" stroke="#f6b000" stroke-width="2.0" stroke-linecap="round"/>
<path d="M4.2 -7.6 C3.5 -8.4 3.3 -9.3 3.6 -10.3 M4.4 -7.9 C5.2 -8.3 5.9 -8.9 6.6 -9.9" fill="none" stroke="#f7b400" stroke-width="1.3" stroke-linecap="round"/>
<ellipse cx="0" cy="0" rx="2.3" ry="1.05" transform="rotate(-52)" fill="#1a4d12"/>
</g>
<ellipse cx="107.6" cy="719.4" rx="19.3" ry="19.3" fill="#ff1212"/>
<ellipse cx="107.6" cy="719.4" rx="17.2" ry="17.2" fill="#1f80f2"/>
<ellipse cx="107.6" cy="719.4" rx="15" ry="15" fill="#f07c1c"/>
<ellipse cx="107.6" cy="719.4" rx="12.9" ry="12.9" fill="#f5b71b"/>
<circle cx="109" cy="700.8" r="0.85" fill="#1a1a1a"/>
<circle cx="106.4" cy="705.9" r="0.85" fill="#1a1a1a"/>
<circle cx="121.8" cy="715.5" r="0.85" fill="#1a1a1a"/>
<circle cx="125.9" cy="719.7" r="0.85" fill="#1a1a1a"/>
<circle cx="89.5" cy="719.7" r="0.85" fill="#1a1a1a"/>
<circle cx="95.7" cy="727.2" r="0.85" fill="#1a1a1a"/>
<circle cx="114.9" cy="732" r="0.85" fill="#1a1a1a"/>
<circle cx="100.5" cy="736.2" r="0.85" fill="#1a1a1a"/>
<text x="105.8" y="752.1" font-size="10.4" text-anchor="middle" fill="#111"  textLength="56.61" lengthAdjust="spacingAndGlyphs" stroke="#111" stroke-width="0.3">PDC-AuNRs</text>
<g transform="translate(235.8,702.8) rotate(0) scale(1.05)">
<path d="M1.2 -2.0 C2.9 -3.0 3.0 -4.6 3.4 -6.0 C3.7 -7.0 4.0 -7.4 4.4 -7.9" fill="none" stroke="#f6b000" stroke-width="2.0" stroke-linecap="round"/>
<path d="M4.2 -7.6 C3.5 -8.4 3.3 -9.3 3.6 -10.3 M4.4 -7.9 C5.2 -8.3 5.9 -8.9 6.6 -9.9" fill="none" stroke="#f7b400" stroke-width="1.3" stroke-linecap="round"/>
<ellipse cx="0" cy="0" rx="2.3" ry="1.05" transform="rotate(-52)" fill="#1a4d12"/>
</g>
<g transform="translate(244.1,702.8) rotate(0) scale(1.05)">
<path d="M1.2 -2.0 C2.9 -3.0 3.0 -4.6 3.4 -6.0 C3.7 -7.0 4.0 -7.4 4.4 -7.9" fill="none" stroke="#f6b000" stroke-width="2.0" stroke-linecap="round"/>
<path d="M4.2 -7.6 C3.5 -8.4 3.3 -9.3 3.6 -10.3 M4.4 -7.9 C5.2 -8.3 5.9 -8.9 6.6 -9.9" fill="none" stroke="#f7b400" stroke-width="1.3" stroke-linecap="round"/>
<ellipse cx="0" cy="0" rx="2.3" ry="1.05" transform="rotate(-52)" fill="#1a4d12"/>
</g>
<g transform="translate(252.4,702.8) rotate(0) scale(1.05)">
<path d="M1.2 -2.0 C2.9 -3.0 3.0 -4.6 3.4 -6.0 C3.7 -7.0 4.0 -7.4 4.4 -7.9" fill="none" stroke="#f6b000" stroke-width="2.0" stroke-linecap="round"/>
<path d="M4.2 -7.6 C3.5 -8.4 3.3 -9.3 3.6 -10.3 M4.4 -7.9 C5.2 -8.3 5.9 -8.9 6.6 -9.9" fill="none" stroke="#f7b400" stroke-width="1.3" stroke-linecap="round"/>
<ellipse cx="0" cy="0" rx="2.3" ry="1.05" transform="rotate(-52)" fill="#1a4d12"/>
</g>
<g transform="translate(260.7,702.8) rotate(0) scale(1.05)">
<path d="M1.2 -2.0 C2.9 -3.0 3.0 -4.6 3.4 -6.0 C3.7 -7.0 4.0 -7.4 4.4 -7.9" fill="none" stroke="#f6b000" stroke-width="2.0" stroke-linecap="round"/>
<path d="M4.2 -7.6 C3.5 -8.4 3.3 -9.3 3.6 -10.3 M4.4 -7.9 C5.2 -8.3 5.9 -8.9 6.6 -9.9" fill="none" stroke="#f7b400" stroke-width="1.3" stroke-linecap="round"/>
<ellipse cx="0" cy="0" rx="2.3" ry="1.05" transform="rotate(-52)" fill="#1a4d12"/>
</g>
<g transform="translate(269,702.8) rotate(0) scale(1.05)">
<path d="M1.2 -2.0 C2.9 -3.0 3.0 -4.6 3.4 -6.0 C3.7 -7.0 4.0 -7.4 4.4 -7.9" fill="none" stroke="#f6b000" stroke-width="2.0" stroke-linecap="round"/>
<path d="M4.2 -7.6 C3.5 -8.4 3.3 -9.3 3.6 -10.3 M4.4 -7.9 C5.2 -8.3 5.9 -8.9 6.6 -9.9" fill="none" stroke="#f7b400" stroke-width="1.3" stroke-linecap="round"/>
<ellipse cx="0" cy="0" rx="2.3" ry="1.05" transform="rotate(-52)" fill="#1a4d12"/>
</g>
<g transform="translate(277.3,702.8) rotate(0) scale(1.05)">
<path d="M1.2 -2.0 C2.9 -3.0 3.0 -4.6 3.4 -6.0 C3.7 -7.0 4.0 -7.4 4.4 -7.9" fill="none" stroke="#f6b000" stroke-width="2.0" stroke-linecap="round"/>
<path d="M4.2 -7.6 C3.5 -8.4 3.3 -9.3 3.6 -10.3 M4.4 -7.9 C5.2 -8.3 5.9 -8.9 6.6 -9.9" fill="none" stroke="#f7b400" stroke-width="1.3" stroke-linecap="round"/>
<ellipse cx="0" cy="0" rx="2.3" ry="1.05" transform="rotate(-52)" fill="#1a4d12"/>
</g>
<g transform="translate(285.6,702.8) rotate(0) scale(1.05)">
<path d="M1.2 -2.0 C2.9 -3.0 3.0 -4.6 3.4 -6.0 C3.7 -7.0 4.0 -7.4 4.4 -7.9" fill="none" stroke="#f6b000" stroke-width="2.0" stroke-linecap="round"/>
<path d="M4.2 -7.6 C3.5 -8.4 3.3 -9.3 3.6 -10.3 M4.4 -7.9 C5.2 -8.3 5.9 -8.9 6.6 -9.9" fill="none" stroke="#f7b400" stroke-width="1.3" stroke-linecap="round"/>
<ellipse cx="0" cy="0" rx="2.3" ry="1.05" transform="rotate(-52)" fill="#1a4d12"/>
</g>
<g transform="translate(293.9,702.8) rotate(0) scale(1.05)">
<path d="M1.2 -2.0 C2.9 -3.0 3.0 -4.6 3.4 -6.0 C3.7 -7.0 4.0 -7.4 4.4 -7.9" fill="none" stroke="#f6b000" stroke-width="2.0" stroke-linecap="round"/>
<path d="M4.2 -7.6 C3.5 -8.4 3.3 -9.3 3.6 -10.3 M4.4 -7.9 C5.2 -8.3 5.9 -8.9 6.6 -9.9" fill="none" stroke="#f7b400" stroke-width="1.3" stroke-linecap="round"/>
<ellipse cx="0" cy="0" rx="2.3" ry="1.05" transform="rotate(-52)" fill="#1a4d12"/>
</g>
<g transform="translate(302.2,702.8) rotate(0) scale(1.05)">
<path d="M1.2 -2.0 C2.9 -3.0 3.0 -4.6 3.4 -6.0 C3.7 -7.0 4.0 -7.4 4.4 -7.9" fill="none" stroke="#f6b000" stroke-width="2.0" stroke-linecap="round"/>
<path d="M4.2 -7.6 C3.5 -8.4 3.3 -9.3 3.6 -10.3 M4.4 -7.9 C5.2 -8.3 5.9 -8.9 6.6 -9.9" fill="none" stroke="#f7b400" stroke-width="1.3" stroke-linecap="round"/>
<ellipse cx="0" cy="0" rx="2.3" ry="1.05" transform="rotate(-52)" fill="#1a4d12"/>
</g>
<g transform="translate(310.5,702.8) rotate(0) scale(1.05)">
<path d="M1.2 -2.0 C2.9 -3.0 3.0 -4.6 3.4 -6.0 C3.7 -7.0 4.0 -7.4 4.4 -7.9" fill="none" stroke="#f6b000" stroke-width="2.0" stroke-linecap="round"/>
<path d="M4.2 -7.6 C3.5 -8.4 3.3 -9.3 3.6 -10.3 M4.4 -7.9 C5.2 -8.3 5.9 -8.9 6.6 -9.9" fill="none" stroke="#f7b400" stroke-width="1.3" stroke-linecap="round"/>
<ellipse cx="0" cy="0" rx="2.3" ry="1.05" transform="rotate(-52)" fill="#1a4d12"/>
</g>
<text x="281" y="767.7" font-size="10.4" text-anchor="middle" fill="#111"  textLength="55.5" lengthAdjust="spacingAndGlyphs" stroke="#111" stroke-width="0.3">PSS-AuNRs</text>
<path d="M275 769 q1 -0.8 2 0 t2 0 t2 0 t2 0 t2 0 t2 0 t2 0 t2 0 t2 0 t2 0 t2 0 t2 0 t2 0 t2 0 t2 0 t2 0 t1 0" fill="none" stroke="#e03030" stroke-width="0.8"/>
<rect x="251.2" y="773.6" width="57.6" height="5.8" fill="#1f80f2" />
<rect x="251.2" y="779.3" width="57.6" height="5.4" fill="#e07a30" />
<rect x="251.2" y="784.6" width="57.6" height="8.2" fill="#f5b71b" />
<line x1="276.3" y1="775.9" x2="280.3" y2="775.9" stroke="#fff" stroke-width="1.3" />
<line x1="255.3" y1="782.4" x2="258.7" y2="782.4" stroke="#000" stroke-width="0.9" />
<line x1="257" y1="780.7" x2="257" y2="784.1" stroke="#000" stroke-width="0.9" />
<line x1="298.6" y1="782.4" x2="302" y2="782.4" stroke="#000" stroke-width="0.9" />
<line x1="300.3" y1="780.7" x2="300.3" y2="784.1" stroke="#000" stroke-width="0.9" /></svg>
</body></html>
